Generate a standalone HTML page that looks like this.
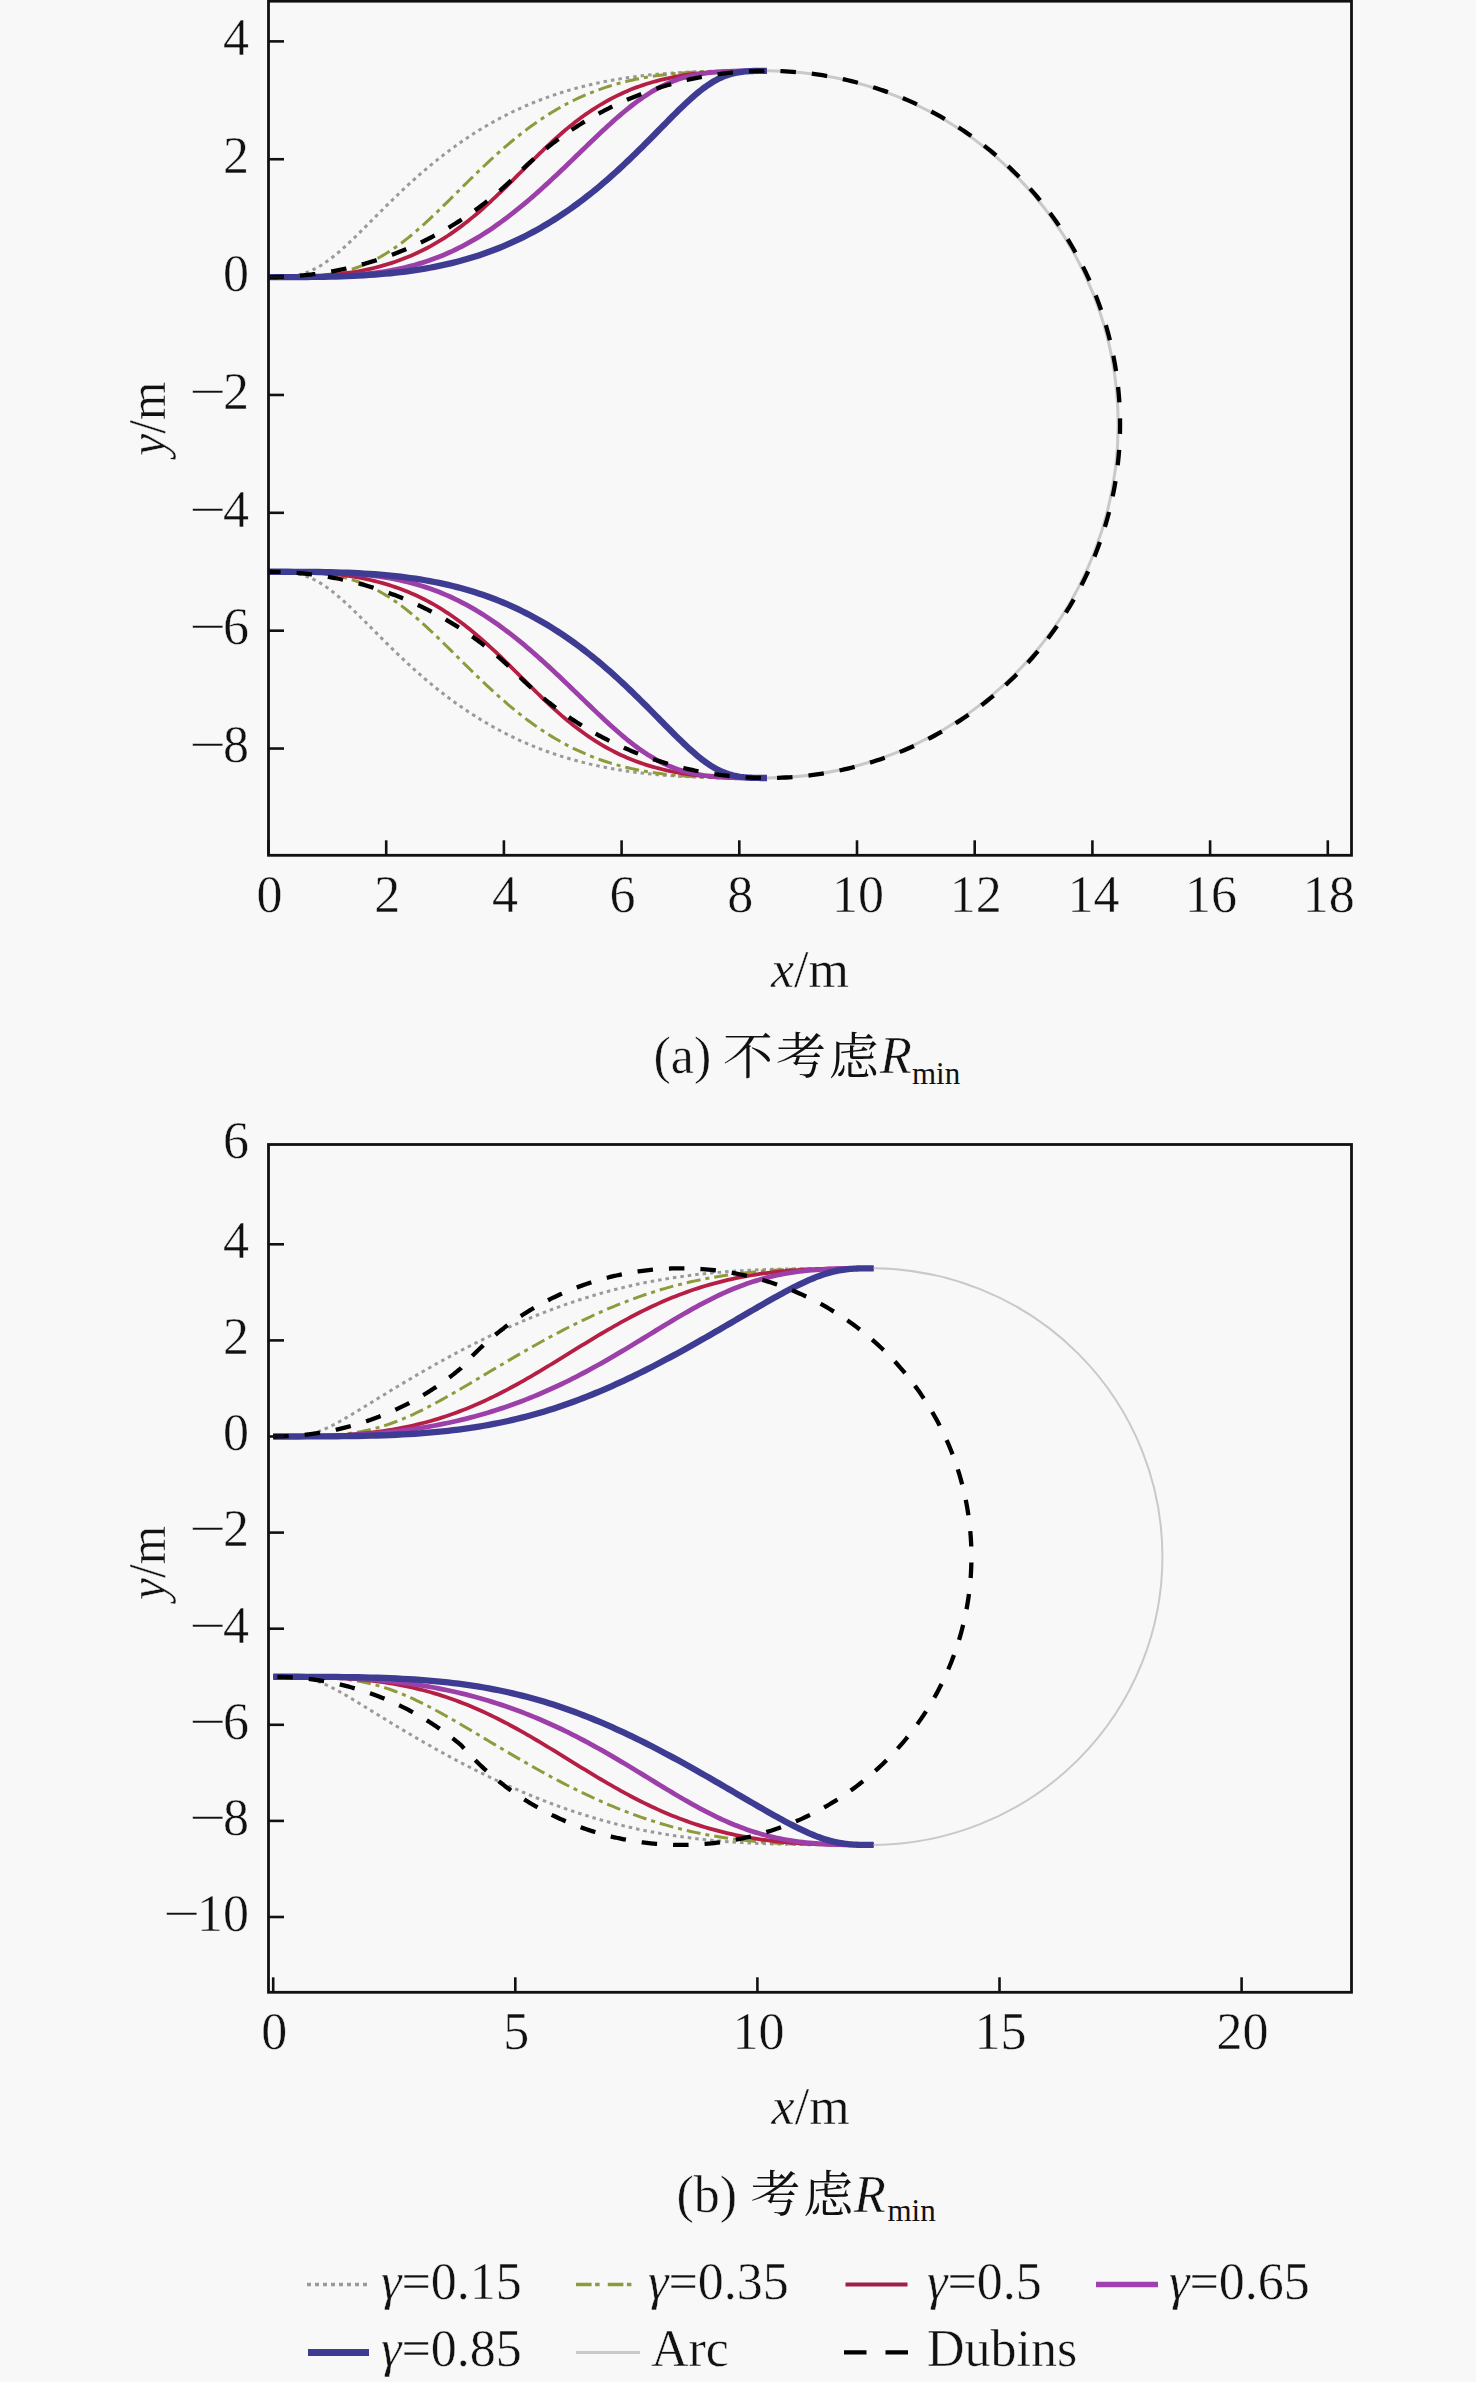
<!DOCTYPE html>
<html><head><meta charset="utf-8"><title>Figure</title>
<style>html,body{margin:0;padding:0;background:#f8f8f8;}svg{display:block;}</style></head>
<body><svg width="1476" height="2382" viewBox="0 0 1476 2382">
<style>text{stroke:#f8f8f8;stroke-width:0.45px}</style>
<rect width="1476" height="2382" fill="#f8f8f8"/>
<defs><clipPath id="clipA"><rect x="268.5" y="1.2" width="1083.0" height="854.0999999999999"/></clipPath><clipPath id="clipB"><rect x="268.5" y="1144.5" width="1083.0" height="847.8"/></clipPath></defs>
<g fill="none" clip-path="url(#clipA)">
<path d="M268.5 277.1 270.4 277.1 272.27 277.1 274.11 277.09 275.93 277.07 277.73 277.04 279.5 277 281.25 276.94 282.98 276.86 284.69 276.76 286.39 276.63 288.07 276.49 289.73 276.31 291.38 276.11 293.02 275.87 294.65 275.6 296.26 275.3 297.87 274.97 299.47 274.59 301.06 274.18 302.65 273.73 304.23 273.24 305.81 272.71 307.39 272.13 308.97 271.52 310.54 270.85 312.12 270.15 313.7 269.4 315.28 268.6 316.86 267.76 318.45 266.87 320.05 265.94 321.65 264.95 323.26 263.92 324.88 262.85 326.51 261.72 328.14 260.55 329.79 259.34 331.46 258.07 333.13 256.76 334.82 255.41 336.52 254 338.24 252.56 339.98 251.06 341.73 249.53 343.5 247.95 345.29 246.32 347.09 244.66 348.92 242.95 350.77 241.2 352.64 239.41 354.53 237.58 356.45 235.72 358.39 233.81 360.35 231.87 362.34 229.9 364.35 227.89 366.39 225.85 368.46 223.77 370.55 221.67 372.67 219.53 374.82 217.37 377 215.18 379.21 212.97 381.45 210.73 383.72 208.47 386.02 206.18 388.36 203.88 390.72 201.56 393.12 199.22 395.55 196.86 398.02 194.49 400.51 192.11 403.05 189.71 405.61 187.31 408.22 184.89 410.85 182.47 413.53 180.05 416.24 177.62 418.99 175.19 421.77 172.76 424.59 170.32 427.45 167.9 430.35 165.47 433.28 163.05 436.26 160.64 439.27 158.23 442.32 155.84 445.41 153.46 448.54 151.09 451.71 148.73 454.92 146.39 458.17 144.07 461.46 141.76 464.8 139.48 468.17 137.22 471.58 134.98 475.03 132.76 478.53 130.57 482.06 128.41 485.64 126.28 489.26 124.17 492.91 122.1 496.61 120.06 500.36 118.05 504.14 116.07 507.97 114.13 511.83 112.23 515.74 110.36 519.69 108.54 523.68 106.75 527.72 105 531.79 103.29 535.91 101.62 540.06 100 544.26 98.42 548.5 96.88 552.78 95.39 557.11 93.94 561.47 92.54 565.87 91.18 570.32 89.87 574.8 88.61 579.33 87.39 583.9 86.22 588.5 85.1 593.15 84.02 597.83 82.99 602.56 82.01 607.32 81.07 612.13 80.19 616.97 79.34 621.85 78.55 626.77 77.8 631.72 77.09 636.72 76.43 641.75 75.81 646.82 75.24 651.92 74.71 657.07 74.21 662.24 73.76 667.46 73.35 672.71 72.98 677.99 72.64 683.31 72.34 688.66 72.07 694.05 71.84 699.47 71.63 704.92 71.46 710.41 71.31 715.93 71.19 721.48 71.09 727.06 71.01 732.67 70.95 738.31 70.91 743.98 70.88 749.69 70.86 755.42 70.85 761.17 70.85 766.96 70.85" stroke="#9a9a9a" stroke-width="3" stroke-dasharray="3.5 4"/>
<path d="M268.5 571.75 270.4 571.75 272.27 571.75 274.11 571.76 275.93 571.78 277.73 571.81 279.5 571.85 281.25 571.91 282.98 571.99 284.69 572.09 286.39 572.22 288.07 572.36 289.73 572.54 291.38 572.74 293.02 572.98 294.65 573.25 296.26 573.55 297.87 573.88 299.47 574.26 301.06 574.67 302.65 575.12 304.23 575.61 305.81 576.14 307.39 576.72 308.97 577.33 310.54 578 312.12 578.7 313.7 579.45 315.28 580.25 316.86 581.09 318.45 581.98 320.05 582.91 321.65 583.9 323.26 584.93 324.88 586 326.51 587.13 328.14 588.3 329.79 589.51 331.46 590.78 333.13 592.09 334.82 593.44 336.52 594.85 338.24 596.29 339.98 597.79 341.73 599.32 343.5 600.9 345.29 602.53 347.09 604.19 348.92 605.9 350.77 607.65 352.64 609.44 354.53 611.27 356.45 613.13 358.39 615.04 360.35 616.98 362.34 618.95 364.35 620.96 366.39 623 368.46 625.08 370.55 627.18 372.67 629.32 374.82 631.48 377 633.67 379.21 635.88 381.45 638.12 383.72 640.38 386.02 642.67 388.36 644.97 390.72 647.29 393.12 649.63 395.55 651.99 398.02 654.36 400.51 656.74 403.05 659.14 405.61 661.54 408.22 663.96 410.85 666.38 413.53 668.8 416.24 671.23 418.99 673.66 421.77 676.09 424.59 678.53 427.45 680.95 430.35 683.38 433.28 685.8 436.26 688.21 439.27 690.62 442.32 693.01 445.41 695.39 448.54 697.76 451.71 700.12 454.92 702.46 458.17 704.78 461.46 707.09 464.8 709.37 468.17 711.63 471.58 713.87 475.03 716.09 478.53 718.28 482.06 720.44 485.64 722.57 489.26 724.68 492.91 726.75 496.61 728.79 500.36 730.8 504.14 732.78 507.97 734.72 511.83 736.62 515.74 738.49 519.69 740.31 523.68 742.1 527.72 743.85 531.79 745.56 535.91 747.23 540.06 748.85 544.26 750.43 548.5 751.97 552.78 753.46 557.11 754.91 561.47 756.31 565.87 757.67 570.32 758.98 574.8 760.24 579.33 761.46 583.9 762.63 588.5 763.75 593.15 764.83 597.83 765.86 602.56 766.84 607.32 767.78 612.13 768.66 616.97 769.51 621.85 770.3 626.77 771.05 631.72 771.76 636.72 772.42 641.75 773.04 646.82 773.61 651.92 774.14 657.07 774.64 662.24 775.09 667.46 775.5 672.71 775.87 677.99 776.21 683.31 776.51 688.66 776.78 694.05 777.01 699.47 777.22 704.92 777.39 710.41 777.54 715.93 777.66 721.48 777.76 727.06 777.84 732.67 777.9 738.31 777.94 743.98 777.97 749.69 777.99 755.42 778 761.17 778 766.96 778" stroke="#9a9a9a" stroke-width="3" stroke-dasharray="3.5 4"/>
<path d="M268.5 277.1 272.21 277.1 275.86 277.1 279.45 277.09 282.97 277.07 286.43 277.04 289.84 277 293.19 276.94 296.49 276.86 299.74 276.76 302.94 276.63 306.08 276.49 309.19 276.31 312.24 276.11 315.25 275.87 318.23 275.6 321.16 275.3 324.05 274.97 326.9 274.59 329.72 274.18 332.51 273.73 335.26 273.24 337.98 272.71 340.67 272.13 343.33 271.52 345.96 270.85 348.57 270.15 351.15 269.4 353.71 268.6 356.24 267.76 358.75 266.87 361.25 265.94 363.72 264.95 366.18 263.92 368.62 262.85 371.04 261.72 373.45 260.55 375.84 259.34 378.22 258.07 380.59 256.76 382.95 255.41 385.3 254 387.63 252.56 389.96 251.06 392.29 249.53 394.6 247.95 396.91 246.32 399.22 244.66 401.52 242.95 403.82 241.2 406.11 239.41 408.41 237.58 410.7 235.72 412.99 233.81 415.28 231.87 417.58 229.9 419.87 227.89 422.17 225.85 424.47 223.77 426.77 221.67 429.08 219.53 431.39 217.37 433.71 215.18 436.04 212.97 438.37 210.73 440.71 208.47 443.05 206.18 445.41 203.88 447.77 201.56 450.14 199.22 452.53 196.86 454.92 194.49 457.32 192.11 459.74 189.71 462.17 187.31 464.6 184.89 467.06 182.47 469.52 180.05 472 177.62 474.5 175.19 477.01 172.76 479.53 170.32 482.07 167.9 484.63 165.47 487.2 163.05 489.79 160.64 492.4 158.23 495.02 155.84 497.67 153.46 500.33 151.09 503.01 148.73 505.71 146.39 508.43 144.07 511.18 141.76 513.94 139.48 516.73 137.22 519.54 134.98 522.37 132.76 525.22 130.57 528.1 128.41 531 126.28 533.92 124.17 536.87 122.1 539.85 120.06 542.85 118.05 545.88 116.07 548.93 114.13 552.01 112.23 555.12 110.36 558.26 108.54 561.43 106.75 564.62 105 567.85 103.29 571.11 101.62 574.4 100 577.72 98.42 581.07 96.88 584.46 95.39 587.88 93.94 591.34 92.54 594.82 91.18 598.35 89.87 601.91 88.61 605.51 87.39 609.15 86.22 612.82 85.1 616.54 84.02 620.29 82.99 624.08 82.01 627.92 81.07 631.8 80.19 635.72 79.34 639.69 78.55 643.7 77.8 647.75 77.09 651.86 76.43 656.01 75.81 660.2 75.24 664.45 74.71 668.75 74.21 673.1 73.76 677.5 73.35 681.95 72.98 686.46 72.64 691.03 72.34 695.65 72.07 700.33 71.84 705.07 71.63 709.86 71.46 714.72 71.31 719.64 71.19 724.63 71.09 729.68 71.01 734.8 70.95 739.98 70.91 745.23 70.88 750.55 70.86 755.95 70.85 761.42 70.85 766.96 70.85" stroke="#8e9a3c" stroke-width="3" stroke-dasharray="14 5 4 5"/>
<path d="M268.5 571.75 272.21 571.75 275.86 571.75 279.45 571.76 282.97 571.78 286.43 571.81 289.84 571.85 293.19 571.91 296.49 571.99 299.74 572.09 302.94 572.22 306.08 572.36 309.19 572.54 312.24 572.74 315.25 572.98 318.23 573.25 321.16 573.55 324.05 573.88 326.9 574.26 329.72 574.67 332.51 575.12 335.26 575.61 337.98 576.14 340.67 576.72 343.33 577.33 345.96 578 348.57 578.7 351.15 579.45 353.71 580.25 356.24 581.09 358.75 581.98 361.25 582.91 363.72 583.9 366.18 584.93 368.62 586 371.04 587.13 373.45 588.3 375.84 589.51 378.22 590.78 380.59 592.09 382.95 593.44 385.3 594.85 387.63 596.29 389.96 597.79 392.29 599.32 394.6 600.9 396.91 602.53 399.22 604.19 401.52 605.9 403.82 607.65 406.11 609.44 408.41 611.27 410.7 613.13 412.99 615.04 415.28 616.98 417.58 618.95 419.87 620.96 422.17 623 424.47 625.08 426.77 627.18 429.08 629.32 431.39 631.48 433.71 633.67 436.04 635.88 438.37 638.12 440.71 640.38 443.05 642.67 445.41 644.97 447.77 647.29 450.14 649.63 452.53 651.99 454.92 654.36 457.32 656.74 459.74 659.14 462.17 661.54 464.6 663.96 467.06 666.38 469.52 668.8 472 671.23 474.5 673.66 477.01 676.09 479.53 678.53 482.07 680.95 484.63 683.38 487.2 685.8 489.79 688.21 492.4 690.62 495.02 693.01 497.67 695.39 500.33 697.76 503.01 700.12 505.71 702.46 508.43 704.78 511.18 707.09 513.94 709.37 516.73 711.63 519.54 713.87 522.37 716.09 525.22 718.28 528.1 720.44 531 722.57 533.92 724.68 536.87 726.75 539.85 728.79 542.85 730.8 545.88 732.78 548.93 734.72 552.01 736.62 555.12 738.49 558.26 740.31 561.43 742.1 564.62 743.85 567.85 745.56 571.11 747.23 574.4 748.85 577.72 750.43 581.07 751.97 584.46 753.46 587.88 754.91 591.34 756.31 594.82 757.67 598.35 758.98 601.91 760.24 605.51 761.46 609.15 762.63 612.82 763.75 616.54 764.83 620.29 765.86 624.08 766.84 627.92 767.78 631.8 768.66 635.72 769.51 639.69 770.3 643.7 771.05 647.75 771.76 651.86 772.42 656.01 773.04 660.2 773.61 664.45 774.14 668.75 774.64 673.1 775.09 677.5 775.5 681.95 775.87 686.46 776.21 691.03 776.51 695.65 776.78 700.33 777.01 705.07 777.22 709.86 777.39 714.72 777.54 719.64 777.66 724.63 777.76 729.68 777.84 734.8 777.9 739.98 777.94 745.23 777.97 750.55 777.99 755.95 778 761.42 778 766.96 778" stroke="#8e9a3c" stroke-width="3" stroke-dasharray="14 5 4 5"/>
<path d="M268.5 277.1 272.1 277.1 275.73 277.1 279.39 277.09 283.06 277.07 286.75 277.04 290.46 277 294.18 276.94 297.91 276.86 301.64 276.76 305.38 276.63 309.12 276.49 312.87 276.31 316.61 276.11 320.35 275.87 324.08 275.6 327.8 275.3 331.52 274.97 335.22 274.59 338.91 274.18 342.59 273.73 346.26 273.24 349.9 272.71 353.53 272.13 357.14 271.52 360.73 270.85 364.29 270.15 367.84 269.4 371.36 268.6 374.86 267.76 378.33 266.87 381.78 265.94 385.2 264.95 388.6 263.92 391.97 262.85 395.31 261.72 398.62 260.55 401.91 259.34 405.17 258.07 408.4 256.76 411.6 255.41 414.77 254 417.91 252.56 421.03 251.06 424.11 249.53 427.17 247.95 430.2 246.32 433.2 244.66 436.17 242.95 439.12 241.2 442.04 239.41 444.93 237.58 447.79 235.72 450.63 233.81 453.45 231.87 456.24 229.9 459 227.89 461.75 225.85 464.46 223.77 467.16 221.67 469.84 219.53 472.49 217.37 475.13 215.18 477.75 212.97 480.34 210.73 482.92 208.47 485.49 206.18 488.04 203.88 490.57 201.56 493.09 199.22 495.6 196.86 498.09 194.49 500.58 192.11 503.06 189.71 505.52 187.31 507.98 184.89 510.43 182.47 512.88 180.05 515.32 177.62 517.76 175.19 520.19 172.76 522.63 170.32 525.06 167.9 527.5 165.47 529.93 163.05 532.37 160.64 534.81 158.23 537.26 155.84 539.72 153.46 542.18 151.09 544.65 148.73 547.12 146.39 549.61 144.07 552.11 141.76 554.62 139.48 557.15 137.22 559.69 134.98 562.24 132.76 564.81 130.57 567.4 128.41 570.01 126.28 572.63 124.17 575.27 122.1 577.94 120.06 580.62 118.05 583.33 116.07 586.06 114.13 588.81 112.23 591.59 110.36 594.39 108.54 597.22 106.75 600.07 105 602.95 103.29 605.86 101.62 608.79 100 611.75 98.42 614.74 96.88 617.76 95.39 620.81 93.94 623.89 92.54 626.99 91.18 630.13 89.87 633.29 88.61 636.49 87.39 639.72 86.22 642.97 85.1 646.25 84.02 649.57 82.99 652.91 82.01 656.29 81.07 659.69 80.19 663.12 79.34 666.57 78.55 670.06 77.8 673.57 77.09 677.11 76.43 680.67 75.81 684.26 75.24 687.87 74.71 691.51 74.21 695.16 73.76 698.84 73.35 702.54 72.98 706.26 72.64 709.99 72.34 713.74 72.07 717.5 71.84 721.28 71.63 725.07 71.46 728.87 71.31 732.68 71.19 736.49 71.09 740.31 71.01 744.12 70.95 747.94 70.91 751.76 70.88 755.57 70.86 759.38 70.85 763.18 70.85 766.96 70.85" stroke="#b51f45" stroke-width="3.8"/>
<path d="M268.5 571.75 272.1 571.75 275.73 571.75 279.39 571.76 283.06 571.78 286.75 571.81 290.46 571.85 294.18 571.91 297.91 571.99 301.64 572.09 305.38 572.22 309.12 572.36 312.87 572.54 316.61 572.74 320.35 572.98 324.08 573.25 327.8 573.55 331.52 573.88 335.22 574.26 338.91 574.67 342.59 575.12 346.26 575.61 349.9 576.14 353.53 576.72 357.14 577.33 360.73 578 364.29 578.7 367.84 579.45 371.36 580.25 374.86 581.09 378.33 581.98 381.78 582.91 385.2 583.9 388.6 584.93 391.97 586 395.31 587.13 398.62 588.3 401.91 589.51 405.17 590.78 408.4 592.09 411.6 593.44 414.77 594.85 417.91 596.29 421.03 597.79 424.11 599.32 427.17 600.9 430.2 602.53 433.2 604.19 436.17 605.9 439.12 607.65 442.04 609.44 444.93 611.27 447.79 613.13 450.63 615.04 453.45 616.98 456.24 618.95 459 620.96 461.75 623 464.46 625.08 467.16 627.18 469.84 629.32 472.49 631.48 475.13 633.67 477.75 635.88 480.34 638.12 482.92 640.38 485.49 642.67 488.04 644.97 490.57 647.29 493.09 649.63 495.6 651.99 498.09 654.36 500.58 656.74 503.06 659.14 505.52 661.54 507.98 663.96 510.43 666.38 512.88 668.8 515.32 671.23 517.76 673.66 520.19 676.09 522.63 678.53 525.06 680.95 527.5 683.38 529.93 685.8 532.37 688.21 534.81 690.62 537.26 693.01 539.72 695.39 542.18 697.76 544.65 700.12 547.12 702.46 549.61 704.78 552.11 707.09 554.62 709.37 557.15 711.63 559.69 713.87 562.24 716.09 564.81 718.28 567.4 720.44 570.01 722.57 572.63 724.68 575.27 726.75 577.94 728.79 580.62 730.8 583.33 732.78 586.06 734.72 588.81 736.62 591.59 738.49 594.39 740.31 597.22 742.1 600.07 743.85 602.95 745.56 605.86 747.23 608.79 748.85 611.75 750.43 614.74 751.97 617.76 753.46 620.81 754.91 623.89 756.31 626.99 757.67 630.13 758.98 633.29 760.24 636.49 761.46 639.72 762.63 642.97 763.75 646.25 764.83 649.57 765.86 652.91 766.84 656.29 767.78 659.69 768.66 663.12 769.51 666.57 770.3 670.06 771.05 673.57 771.76 677.11 772.42 680.67 773.04 684.26 773.61 687.87 774.14 691.51 774.64 695.16 775.09 698.84 775.5 702.54 775.87 706.26 776.21 709.99 776.51 713.74 776.78 717.5 777.01 721.28 777.22 725.07 777.39 728.87 777.54 732.68 777.66 736.49 777.76 740.31 777.84 744.12 777.9 747.94 777.94 751.76 777.97 755.57 777.99 759.38 778 763.18 778 766.96 778" stroke="#b51f45" stroke-width="3.8"/>
<path d="M268.5 277.1 274.41 277.1 280.2 277.1 285.88 277.09 291.45 277.07 296.91 277.04 302.27 277 307.53 276.94 312.69 276.86 317.76 276.76 322.73 276.63 327.62 276.49 332.43 276.31 337.16 276.11 341.8 275.87 346.37 275.6 350.87 275.3 355.3 274.97 359.66 274.59 363.95 274.18 368.19 273.73 372.36 273.24 376.47 272.71 380.52 272.13 384.52 271.52 388.47 270.85 392.37 270.15 396.22 269.4 400.02 268.6 403.78 267.76 407.49 266.87 411.16 265.94 414.79 264.95 418.38 263.92 421.94 262.85 425.45 261.72 428.94 260.55 432.38 259.34 435.8 258.07 439.18 256.76 442.54 255.41 445.86 254 449.15 252.56 452.42 251.06 455.66 249.53 458.88 247.95 462.06 246.32 465.23 244.66 468.37 242.95 471.49 241.2 474.58 239.41 477.66 237.58 480.71 235.72 483.74 233.81 486.75 231.87 489.74 229.9 492.71 227.89 495.67 225.85 498.6 223.77 501.52 221.67 504.41 219.53 507.29 217.37 510.15 215.18 513 212.97 515.83 210.73 518.64 208.47 521.43 206.18 524.21 203.88 526.97 201.56 529.72 199.22 532.45 196.86 535.16 194.49 537.86 192.11 540.54 189.71 543.21 187.31 545.86 184.89 548.5 182.47 551.12 180.05 553.72 177.62 556.32 175.19 558.89 172.76 561.45 170.32 564 167.9 566.53 165.47 569.05 163.05 571.56 160.64 574.05 158.23 576.52 155.84 578.99 153.46 581.43 151.09 583.87 148.73 586.29 146.39 588.7 144.07 591.1 141.76 593.48 139.48 595.85 137.22 598.21 134.98 600.56 132.76 602.9 130.57 605.23 128.41 607.54 126.28 609.85 124.17 612.15 122.1 614.44 120.06 616.72 118.05 618.99 116.07 621.26 114.13 623.52 112.23 625.77 110.36 628.02 108.54 630.27 106.75 632.51 105 634.75 103.29 636.99 101.62 639.22 100 641.46 98.42 643.7 96.88 645.94 95.39 648.19 93.94 650.44 92.54 652.7 91.18 654.96 89.87 657.24 88.61 659.52 87.39 661.82 86.22 664.13 85.1 666.46 84.02 668.8 82.99 671.17 82.01 673.55 81.07 675.95 80.19 678.39 79.34 680.84 78.55 683.33 77.8 685.85 77.09 688.4 76.43 690.98 75.81 693.6 75.24 696.27 74.71 698.98 74.21 701.73 73.76 704.53 73.35 707.39 72.98 710.29 72.64 713.26 72.34 716.28 72.07 719.37 71.84 722.53 71.63 725.76 71.46 729.06 71.31 732.44 71.19 735.89 71.09 739.44 71.01 743.07 70.95 746.8 70.91 750.62 70.88 754.54 70.86 758.57 70.85 762.71 70.85 766.96 70.85" stroke="#9c3fa8" stroke-width="4.8"/>
<path d="M268.5 571.75 274.41 571.75 280.2 571.75 285.88 571.76 291.45 571.78 296.91 571.81 302.27 571.85 307.53 571.91 312.69 571.99 317.76 572.09 322.73 572.22 327.62 572.36 332.43 572.54 337.16 572.74 341.8 572.98 346.37 573.25 350.87 573.55 355.3 573.88 359.66 574.26 363.95 574.67 368.19 575.12 372.36 575.61 376.47 576.14 380.52 576.72 384.52 577.33 388.47 578 392.37 578.7 396.22 579.45 400.02 580.25 403.78 581.09 407.49 581.98 411.16 582.91 414.79 583.9 418.38 584.93 421.94 586 425.45 587.13 428.94 588.3 432.38 589.51 435.8 590.78 439.18 592.09 442.54 593.44 445.86 594.85 449.15 596.29 452.42 597.79 455.66 599.32 458.88 600.9 462.06 602.53 465.23 604.19 468.37 605.9 471.49 607.65 474.58 609.44 477.66 611.27 480.71 613.13 483.74 615.04 486.75 616.98 489.74 618.95 492.71 620.96 495.67 623 498.6 625.08 501.52 627.18 504.41 629.32 507.29 631.48 510.15 633.67 513 635.88 515.83 638.12 518.64 640.38 521.43 642.67 524.21 644.97 526.97 647.29 529.72 649.63 532.45 651.99 535.16 654.36 537.86 656.74 540.54 659.14 543.21 661.54 545.86 663.96 548.5 666.38 551.12 668.8 553.72 671.23 556.32 673.66 558.89 676.09 561.45 678.53 564 680.95 566.53 683.38 569.05 685.8 571.56 688.21 574.05 690.62 576.52 693.01 578.99 695.39 581.43 697.76 583.87 700.12 586.29 702.46 588.7 704.78 591.1 707.09 593.48 709.37 595.85 711.63 598.21 713.87 600.56 716.09 602.9 718.28 605.23 720.44 607.54 722.57 609.85 724.68 612.15 726.75 614.44 728.79 616.72 730.8 618.99 732.78 621.26 734.72 623.52 736.62 625.77 738.49 628.02 740.31 630.27 742.1 632.51 743.85 634.75 745.56 636.99 747.23 639.22 748.85 641.46 750.43 643.7 751.97 645.94 753.46 648.19 754.91 650.44 756.31 652.7 757.67 654.96 758.98 657.24 760.24 659.52 761.46 661.82 762.63 664.13 763.75 666.46 764.83 668.8 765.86 671.17 766.84 673.55 767.78 675.95 768.66 678.39 769.51 680.84 770.3 683.33 771.05 685.85 771.76 688.4 772.42 690.98 773.04 693.6 773.61 696.27 774.14 698.98 774.64 701.73 775.09 704.53 775.5 707.39 775.87 710.29 776.21 713.26 776.51 716.28 776.78 719.37 777.01 722.53 777.22 725.76 777.39 729.06 777.54 732.44 777.66 735.89 777.76 739.44 777.84 743.07 777.9 746.8 777.94 750.62 777.97 754.54 777.99 758.57 778 762.71 778 766.96 778" stroke="#9c3fa8" stroke-width="4.8"/>
<path d="M268.5 277.1 275.03 277.1 281.47 277.1 287.84 277.09 294.13 277.07 300.34 277.04 306.47 277 312.54 276.94 318.53 276.86 324.45 276.76 330.3 276.63 336.08 276.49 341.79 276.31 347.44 276.11 353.02 275.87 358.55 275.6 364 275.3 369.4 274.97 374.74 274.59 380.01 274.18 385.23 273.73 390.4 273.24 395.5 272.71 400.55 272.13 405.55 271.52 410.49 270.85 415.38 270.15 420.21 269.4 425 268.6 429.73 267.76 434.42 266.87 439.05 265.94 443.64 264.95 448.18 263.92 452.67 262.85 457.11 261.72 461.51 260.55 465.86 259.34 470.17 258.07 474.43 256.76 478.65 255.41 482.83 254 486.96 252.56 491.05 251.06 495.09 249.53 499.1 247.95 503.06 246.32 506.98 244.66 510.86 242.95 514.71 241.2 518.51 239.41 522.27 237.58 525.99 235.72 529.67 233.81 533.31 231.87 536.91 229.9 540.48 227.89 544.01 225.85 547.5 223.77 550.95 221.67 554.36 219.53 557.74 217.37 561.08 215.18 564.38 212.97 567.65 210.73 570.88 208.47 574.08 206.18 577.23 203.88 580.36 201.56 583.44 199.22 586.5 196.86 589.51 194.49 592.49 192.11 595.44 189.71 598.35 187.31 601.23 184.89 604.07 182.47 606.88 180.05 609.66 177.62 612.4 175.19 615.11 172.76 617.79 170.32 620.43 167.9 623.04 165.47 625.62 163.05 628.16 160.64 630.68 158.23 633.16 155.84 635.61 153.46 638.03 151.09 640.41 148.73 642.77 146.39 645.1 144.07 647.4 141.76 649.66 139.48 651.9 137.22 654.11 134.98 656.29 132.76 658.45 130.57 660.57 128.41 662.67 126.28 664.74 124.17 666.79 122.1 668.81 120.06 670.8 118.05 672.77 116.07 674.71 114.13 676.63 112.23 678.53 110.36 680.41 108.54 682.26 106.75 684.09 105 685.9 103.29 687.7 101.62 689.47 100 691.22 98.42 692.96 96.88 694.68 95.39 696.38 93.94 698.07 92.54 699.74 91.18 701.4 89.87 703.05 88.61 704.68 87.39 706.31 86.22 707.93 85.1 709.53 84.02 711.13 82.99 712.73 82.01 714.32 81.07 715.9 80.19 717.49 79.34 719.07 78.55 720.65 77.8 722.23 77.09 723.82 76.43 725.41 75.81 727 75.24 728.6 74.71 730.22 74.21 731.84 73.76 733.47 73.35 735.11 72.98 736.78 72.64 738.45 72.34 740.15 72.07 741.87 71.84 743.61 71.63 745.37 71.46 747.16 71.31 748.98 71.19 750.83 71.09 752.71 71.01 754.62 70.95 756.57 70.91 758.56 70.88 760.59 70.86 762.67 70.85 764.79 70.85 766.96 70.85" stroke="#3e3b92" stroke-width="6.3"/>
<path d="M268.5 571.75 275.03 571.75 281.47 571.75 287.84 571.76 294.13 571.78 300.34 571.81 306.47 571.85 312.54 571.91 318.53 571.99 324.45 572.09 330.3 572.22 336.08 572.36 341.79 572.54 347.44 572.74 353.02 572.98 358.55 573.25 364 573.55 369.4 573.88 374.74 574.26 380.01 574.67 385.23 575.12 390.4 575.61 395.5 576.14 400.55 576.72 405.55 577.33 410.49 578 415.38 578.7 420.21 579.45 425 580.25 429.73 581.09 434.42 581.98 439.05 582.91 443.64 583.9 448.18 584.93 452.67 586 457.11 587.13 461.51 588.3 465.86 589.51 470.17 590.78 474.43 592.09 478.65 593.44 482.83 594.85 486.96 596.29 491.05 597.79 495.09 599.32 499.1 600.9 503.06 602.53 506.98 604.19 510.86 605.9 514.71 607.65 518.51 609.44 522.27 611.27 525.99 613.13 529.67 615.04 533.31 616.98 536.91 618.95 540.48 620.96 544.01 623 547.5 625.08 550.95 627.18 554.36 629.32 557.74 631.48 561.08 633.67 564.38 635.88 567.65 638.12 570.88 640.38 574.08 642.67 577.23 644.97 580.36 647.29 583.44 649.63 586.5 651.99 589.51 654.36 592.49 656.74 595.44 659.14 598.35 661.54 601.23 663.96 604.07 666.38 606.88 668.8 609.66 671.23 612.4 673.66 615.11 676.09 617.79 678.53 620.43 680.95 623.04 683.38 625.62 685.8 628.16 688.21 630.68 690.62 633.16 693.01 635.61 695.39 638.03 697.76 640.41 700.12 642.77 702.46 645.1 704.78 647.4 707.09 649.66 709.37 651.9 711.63 654.11 713.87 656.29 716.09 658.45 718.28 660.57 720.44 662.67 722.57 664.74 724.68 666.79 726.75 668.81 728.79 670.8 730.8 672.77 732.78 674.71 734.72 676.63 736.62 678.53 738.49 680.41 740.31 682.26 742.1 684.09 743.85 685.9 745.56 687.7 747.23 689.47 748.85 691.22 750.43 692.96 751.97 694.68 753.46 696.38 754.91 698.07 756.31 699.74 757.67 701.4 758.98 703.05 760.24 704.68 761.46 706.31 762.63 707.93 763.75 709.53 764.83 711.13 765.86 712.73 766.84 714.32 767.78 715.9 768.66 717.49 769.51 719.07 770.3 720.65 771.05 722.23 771.76 723.82 772.42 725.41 773.04 727 773.61 728.6 774.14 730.22 774.64 731.84 775.09 733.47 775.5 735.11 775.87 736.78 776.21 738.45 776.51 740.15 776.78 741.87 777.01 743.61 777.22 745.37 777.39 747.16 777.54 748.98 777.66 750.83 777.76 752.71 777.84 754.62 777.9 756.57 777.94 758.56 777.97 760.59 777.99 762.67 778 764.79 778 766.96 778" stroke="#3e3b92" stroke-width="6.3"/>
<path d="M766.96 70.85A353.1 353.58 0 0 1 766.96 778" stroke="#c9c9c9" stroke-width="3"/>
<path d="M268.5 277.1 269.75 277.1 271 277.09 272.25 277.08 273.5 277.06 274.75 277.04 276 277.02 277.24 276.99 278.49 276.96 279.74 276.92 280.99 276.88 282.24 276.83 283.49 276.78 284.74 276.73 285.99 276.67 287.24 276.6 288.49 276.53 289.74 276.46 290.99 276.38 292.24 276.3 293.49 276.21 294.73 276.12 295.98 276.03 297.23 275.93 298.48 275.82 299.73 275.71 300.98 275.6 302.23 275.48 303.48 275.36 304.73 275.23 305.98 275.1 307.23 274.97 308.48 274.83 309.73 274.68 310.98 274.53 312.22 274.38 313.47 274.22 314.72 274.06 315.97 273.89 317.22 273.72 318.47 273.54 319.72 273.36 320.97 273.17 322.22 272.98 323.47 272.79 324.72 272.59 325.97 272.39 327.22 272.18 328.47 271.96 329.71 271.75 330.96 271.52 332.21 271.3 333.46 271.06 334.71 270.83 335.96 270.59 337.21 270.34 338.46 270.09 339.71 269.84 340.96 269.58 342.21 269.31 343.46 269.04 344.71 268.77 345.95 268.49 347.2 268.2 348.45 267.92 349.7 267.62 350.95 267.33 352.2 267.02 353.45 266.71 354.7 266.4 355.95 266.08 357.2 265.76 358.45 265.44 359.7 265.1 360.95 264.77 362.2 264.42 363.44 264.08 364.69 263.73 365.94 263.37 367.19 263.01 368.44 262.64 369.69 262.27 370.94 261.89 372.19 261.51 373.44 261.12 374.69 260.73 375.94 260.34 377.19 259.93 378.44 259.53 379.69 259.11 380.93 258.7 382.18 258.27 383.43 257.85 384.68 257.41 385.93 256.97 387.18 256.53 388.43 256.08 389.68 255.63 390.93 255.17 392.18 254.7 393.43 254.23 394.68 253.75 395.93 253.27 397.18 252.79 398.42 252.29 399.67 251.8 400.92 251.29 402.17 250.78 403.42 250.27 404.67 249.75 405.92 249.22 407.17 248.69 408.42 248.16 409.67 247.61 410.92 247.06 412.17 246.51 413.42 245.95 414.66 245.38 415.91 244.81 417.16 244.23 418.41 243.65 419.66 243.06 420.91 242.47 422.16 241.86 423.41 241.26 424.66 240.64 425.91 240.02 427.16 239.4 428.41 238.76 429.66 238.13 430.91 237.48 432.15 236.83 433.4 236.17 434.65 235.51 435.9 234.84 437.15 234.16 438.4 233.48 439.65 232.79 440.9 232.09 442.15 231.39 443.4 230.68 444.65 229.96 445.9 229.24 447.15 228.51 448.4 227.77 449.64 227.03 450.89 226.28 452.14 225.52 453.39 224.75 454.64 223.98 455.89 223.2 457.14 222.41 458.39 221.62 459.64 220.82 460.89 220.01 462.14 219.19 463.39 218.37 464.64 217.54 465.88 216.7 467.13 215.85 468.38 214.99 469.63 214.13 470.88 213.26 472.13 212.38 473.38 211.49 474.63 210.6 475.88 209.69 477.13 208.78 478.38 207.86 479.63 206.93 480.88 206 482.13 205.05 483.37 204.09 484.62 203.13 485.87 202.16 487.12 201.18 488.37 200.19 489.62 199.19 490.87 198.18 492.12 197.16 493.37 196.13 494.62 195.09 495.87 194.04 497.12 192.98 498.37 191.92 499.62 190.84 500.86 189.75 502.11 188.65 503.36 187.54 504.61 186.42 505.86 185.29 507.11 184.15 508.36 183 509.61 181.84 510.86 180.66 512.11 179.47 513.36 178.28 514.61 177.07 515.86 175.84 517.11 174.58 518.35 173.34 519.6 172.1 520.85 170.88 522.1 169.67 523.35 168.47 524.6 167.28 525.85 166.11 527.1 164.95 528.35 163.79 529.6 162.65 530.85 161.52 532.1 160.4 533.35 159.29 534.59 158.19 535.84 157.11 537.09 156.03 538.34 154.96 539.59 153.9 540.84 152.86 542.09 151.82 543.34 150.79 544.59 149.77 545.84 148.76 547.09 147.76 548.34 146.77 549.59 145.79 550.84 144.81 552.08 143.85 553.33 142.9 554.58 141.95 555.83 141.01 557.08 140.08 558.33 139.16 559.58 138.25 560.83 137.35 562.08 136.45 563.33 135.56 564.58 134.69 565.83 133.81 567.08 132.95 568.33 132.1 569.57 131.25 570.82 130.41 572.07 129.58 573.32 128.75 574.57 127.94 575.82 127.13 577.07 126.33 578.32 125.53 579.57 124.75 580.82 123.97 582.07 123.19 583.32 122.43 584.57 121.67 585.82 120.92 587.06 120.17 588.31 119.44 589.56 118.71 590.81 117.98 592.06 117.27 593.31 116.56 594.56 115.85 595.81 115.16 597.06 114.47 598.31 113.78 599.56 113.11 600.81 112.44 602.06 111.77 603.3 111.12 604.55 110.46 605.8 109.82 607.05 109.18 608.3 108.55 609.55 107.92 610.8 107.3 612.05 106.69 613.3 106.08 614.55 105.48 615.8 104.88 617.05 104.29 618.3 103.71 619.55 103.13 620.79 102.56 622.04 101.99 623.29 101.43 624.54 100.88 625.79 100.33 627.04 99.79 628.29 99.25 629.54 98.72 630.79 98.2 632.04 97.68 633.29 97.16 634.54 96.65 635.79 96.15 637.04 95.65 638.28 95.16 639.53 94.67 640.78 94.19 642.03 93.71 643.28 93.24 644.53 92.78 645.78 92.32 647.03 91.86 648.28 91.42 649.53 90.97 650.78 90.53 652.03 90.1 653.28 89.67 654.53 89.25 655.77 88.83 657.02 88.42 658.27 88.01 659.52 87.61 660.77 87.21 662.02 86.82 663.27 86.43 664.52 86.05 665.77 85.68 667.02 85.3 668.27 84.94 669.52 84.58 670.77 84.22 672.01 83.87 673.26 83.52 674.51 83.18 675.76 82.84 677.01 82.51 678.26 82.18 679.51 81.86 680.76 81.54 682.01 81.23 683.26 80.92 684.51 80.62 685.76 80.32 687.01 80.03 688.26 79.74 689.5 79.46 690.75 79.18 692 78.9 693.25 78.63 694.5 78.37 695.75 78.11 697 77.85 698.25 77.6 699.5 77.36 700.75 77.12 702 76.88 703.25 76.65 704.5 76.42 705.75 76.2 706.99 75.98 708.24 75.77 709.49 75.56 710.74 75.36 711.99 75.16 713.24 74.96 714.49 74.77 715.74 74.58 716.99 74.4 718.24 74.23 719.49 74.06 720.74 73.89 721.99 73.72 723.23 73.57 724.48 73.41 725.73 73.26 726.98 73.12 728.23 72.98 729.48 72.84 730.73 72.71 731.98 72.58 733.23 72.46 734.48 72.34 735.73 72.23 736.98 72.12 738.23 72.02 739.48 71.92 740.72 71.82 741.97 71.73 743.22 71.64 744.47 71.56 745.72 71.49 746.97 71.41 748.22 71.34 749.47 71.28 750.72 71.22 751.97 71.16 753.22 71.11 754.47 71.07 755.72 71.02 756.97 70.99 758.21 70.95 759.46 70.92 760.71 70.9 761.96 70.88 763.21 70.86 764.46 70.85 765.71 70.85 766.96 70.85 770.67 70.86 774.38 70.92 778.09 71.02 781.8 71.16 785.5 71.33 789.2 71.55 792.91 71.8 796.6 72.09 800.3 72.42 803.99 72.79 807.68 73.2 811.36 73.65 815.04 74.14 818.71 74.66 822.38 75.23 826.04 75.83 829.7 76.47 833.34 77.15 836.98 77.87 840.62 78.62 844.24 79.42 847.86 80.25 851.46 81.12 855.06 82.03 858.65 82.97 862.22 83.96 865.79 84.98 869.35 86.04 872.89 87.13 876.43 88.27 879.95 89.44 883.46 90.64 886.95 91.89 890.43 93.17 893.9 94.49 897.36 95.84 900.8 97.23 904.22 98.66 907.63 100.12 911.03 101.62 914.41 103.15 917.77 104.72 921.12 106.32 924.45 107.96 927.76 109.64 931.05 111.35 934.33 113.09 937.59 114.87 940.83 116.68 944.04 118.53 947.24 120.41 950.42 122.32 953.58 124.27 956.72 126.25 959.84 128.26 962.94 130.31 966.01 132.38 969.07 134.49 972.1 136.64 975.11 138.81 978.09 141.02 981.05 143.25 983.99 145.52 986.91 147.82 989.8 150.15 992.66 152.51 995.5 154.9 998.32 157.32 1001.11 159.77 1003.87 162.24 1006.61 164.75 1009.32 167.29 1012.01 169.85 1014.66 172.44 1017.29 175.06 1019.9 177.71 1022.47 180.39 1025.02 183.09 1027.54 185.82 1030.02 188.57 1032.49 191.35 1034.92 194.16 1037.32 196.99 1039.69 199.85 1042.03 202.73 1044.34 205.64 1046.62 208.57 1048.87 211.52 1051.09 214.5 1053.28 217.5 1055.43 220.52 1057.56 223.57 1059.65 226.64 1061.71 229.73 1063.73 232.84 1065.73 235.97 1067.69 239.13 1069.61 242.3 1071.51 245.49 1073.37 248.71 1075.2 251.94 1076.99 255.19 1078.75 258.47 1080.47 261.76 1082.16 265.06 1083.82 268.39 1085.44 271.73 1087.02 275.09 1088.57 278.46 1090.08 281.86 1091.56 285.26 1093 288.69 1094.41 292.12 1095.78 295.58 1097.11 299.04 1098.41 302.52 1099.67 306.02 1100.9 309.53 1102.08 313.05 1103.23 316.58 1104.35 320.12 1105.42 323.68 1106.46 327.24 1107.46 330.82 1108.42 334.41 1109.35 338.01 1110.24 341.61 1111.09 345.23 1111.9 348.85 1112.67 352.49 1113.41 356.13 1114.11 359.78 1114.77 363.43 1115.39 367.1 1115.97 370.76 1116.51 374.44 1117.02 378.12 1117.49 381.81 1117.91 385.5 1118.3 389.19 1118.65 392.89 1118.96 396.59 1119.24 400.3 1119.47 404 1119.66 407.71 1119.82 411.43 1119.94 415.14 1120.02 418.85 1120.05 422.57 1120.05 426.28 1120.02 430 1119.94 433.71 1119.82 437.42 1119.66 441.14 1119.47 444.85 1119.24 448.55 1118.96 452.26 1118.65 455.96 1118.3 459.66 1117.91 463.35 1117.49 467.04 1117.02 470.73 1116.51 474.41 1115.97 478.09 1115.39 481.75 1114.77 485.42 1114.11 489.07 1113.41 492.72 1112.67 496.36 1111.9 500 1111.09 503.62 1110.24 507.24 1109.35 510.84 1108.42 514.44 1107.46 518.03 1106.46 521.61 1105.42 525.17 1104.35 528.73 1103.23 532.27 1102.08 535.8 1100.9 539.32 1099.67 542.83 1098.41 546.33 1097.11 549.81 1095.78 553.27 1094.41 556.73 1093 560.16 1091.56 563.59 1090.08 566.99 1088.57 570.39 1087.02 573.76 1085.44 577.12 1083.82 580.46 1082.16 583.79 1080.47 587.09 1078.75 590.38 1076.99 593.66 1075.2 596.91 1073.37 600.14 1071.51 603.36 1069.61 606.55 1067.69 609.72 1065.73 612.88 1063.73 616.01 1061.71 619.12 1059.65 622.21 1057.56 625.28 1055.43 628.33 1053.28 631.35 1051.09 634.35 1048.87 637.33 1046.62 640.28 1044.34 643.21 1042.03 646.12 1039.69 649 1037.32 651.86 1034.92 654.69 1032.49 657.5 1030.02 660.28 1027.54 663.03 1025.02 665.76 1022.47 668.46 1019.9 671.14 1017.29 673.79 1014.66 676.41 1012.01 679 1009.32 681.56 1006.61 684.1 1003.87 686.61 1001.11 689.08 998.32 691.53 995.5 693.95 992.66 696.34 989.8 698.7 986.91 701.03 983.99 703.33 981.05 705.6 978.09 707.83 975.11 710.04 972.1 712.21 969.07 714.36 966.01 716.47 962.94 718.54 959.84 720.59 956.72 722.6 953.58 724.58 950.42 726.53 947.24 728.44 944.04 730.32 940.83 732.17 937.59 733.98 934.33 735.76 931.05 737.5 927.76 739.21 924.45 740.89 921.12 742.53 917.77 744.13 914.41 745.7 911.03 747.23 907.63 748.73 904.22 750.19 900.8 751.62 897.36 753.01 893.9 754.36 890.43 755.68 886.95 756.96 883.46 758.21 879.95 759.41 876.43 760.58 872.89 761.72 869.35 762.81 865.79 763.87 862.22 764.89 858.65 765.88 855.06 766.82 851.46 767.73 847.86 768.6 844.24 769.43 840.62 770.23 836.98 770.98 833.34 771.7 829.7 772.38 826.04 773.02 822.38 773.62 818.71 774.19 815.04 774.71 811.36 775.2 807.68 775.65 803.99 776.06 800.3 776.43 796.6 776.76 792.91 777.05 789.2 777.3 785.5 777.52 781.8 777.69 778.09 777.83 774.38 777.93 770.67 777.99 766.96 778 765.71 778 764.46 778 763.21 777.99 761.96 777.97 760.71 777.95 759.46 777.93 758.21 777.9 756.97 777.86 755.72 777.83 754.47 777.78 753.22 777.74 751.97 777.69 750.72 777.63 749.47 777.57 748.22 777.51 746.97 777.44 745.72 777.36 744.47 777.29 743.22 777.21 741.97 777.12 740.72 777.03 739.48 776.93 738.23 776.83 736.98 776.73 735.73 776.62 734.48 776.51 733.23 776.39 731.98 776.27 730.73 776.14 729.48 776.01 728.23 775.87 726.98 775.73 725.73 775.59 724.48 775.44 723.23 775.28 721.99 775.13 720.74 774.96 719.49 774.79 718.24 774.62 716.99 774.45 715.74 774.27 714.49 774.08 713.24 773.89 711.99 773.69 710.74 773.49 709.49 773.29 708.24 773.08 706.99 772.87 705.75 772.65 704.5 772.43 703.25 772.2 702 771.97 700.75 771.73 699.5 771.49 698.25 771.25 697 771 695.75 770.74 694.5 770.48 693.25 770.22 692 769.95 690.75 769.67 689.5 769.39 688.26 769.11 687.01 768.82 685.76 768.53 684.51 768.23 683.26 767.93 682.01 767.62 680.76 767.31 679.51 766.99 678.26 766.67 677.01 766.34 675.76 766.01 674.51 765.67 673.26 765.33 672.01 764.98 670.77 764.63 669.52 764.27 668.27 763.91 667.02 763.55 665.77 763.17 664.52 762.8 663.27 762.42 662.02 762.03 660.77 761.64 659.52 761.24 658.27 760.84 657.02 760.43 655.77 760.02 654.53 759.6 653.28 759.18 652.03 758.75 650.78 758.32 649.53 757.88 648.28 757.43 647.03 756.99 645.78 756.53 644.53 756.07 643.28 755.61 642.03 755.14 640.78 754.66 639.53 754.18 638.28 753.69 637.04 753.2 635.79 752.7 634.54 752.2 633.29 751.69 632.04 751.17 630.79 750.65 629.54 750.13 628.29 749.6 627.04 749.06 625.79 748.52 624.54 747.97 623.29 747.42 622.04 746.86 620.79 746.29 619.55 745.72 618.3 745.14 617.05 744.56 615.8 743.97 614.55 743.37 613.3 742.77 612.05 742.16 610.8 741.55 609.55 740.93 608.3 740.3 607.05 739.67 605.8 739.03 604.55 738.39 603.3 737.73 602.06 737.08 600.81 736.41 599.56 735.74 598.31 735.07 597.06 734.38 595.81 733.69 594.56 733 593.31 732.29 592.06 731.58 590.81 730.87 589.56 730.14 588.31 729.41 587.06 728.68 585.82 727.93 584.57 727.18 583.32 726.42 582.07 725.66 580.82 724.88 579.57 724.1 578.32 723.32 577.07 722.52 575.82 721.72 574.57 720.91 573.32 720.1 572.07 719.27 570.82 718.44 569.57 717.6 568.33 716.75 567.08 715.9 565.83 715.04 564.58 714.16 563.33 713.29 562.08 712.4 560.83 711.5 559.58 710.6 558.33 709.69 557.08 708.77 555.83 707.84 554.58 706.9 553.33 705.95 552.08 705 550.84 704.04 549.59 703.06 548.34 702.08 547.09 701.09 545.84 700.09 544.59 699.08 543.34 698.06 542.09 697.03 540.84 695.99 539.59 694.95 538.34 693.89 537.09 692.82 535.84 691.74 534.59 690.66 533.35 689.56 532.1 688.45 530.85 687.33 529.6 686.2 528.35 685.06 527.1 683.9 525.85 682.74 524.6 681.57 523.35 680.38 522.1 679.18 520.85 677.97 519.6 676.75 518.35 675.51 517.11 674.27 515.86 673.01 514.61 671.78 513.36 670.57 512.11 669.38 510.86 668.19 509.61 667.01 508.36 665.85 507.11 664.7 505.86 663.56 504.61 662.43 503.36 661.31 502.11 660.2 500.86 659.1 499.62 658.01 498.37 656.93 497.12 655.87 495.87 654.81 494.62 653.76 493.37 652.72 492.12 651.69 490.87 650.67 489.62 649.66 488.37 648.66 487.12 647.67 485.87 646.69 484.62 645.72 483.37 644.76 482.13 643.8 480.88 642.85 479.63 641.92 478.38 640.99 477.13 640.07 475.88 639.16 474.63 638.25 473.38 637.36 472.13 636.47 470.88 635.59 469.63 634.72 468.38 633.86 467.13 633 465.88 632.15 464.64 631.31 463.39 630.48 462.14 629.66 460.89 628.84 459.64 628.03 458.39 627.23 457.14 626.44 455.89 625.65 454.64 624.87 453.39 624.1 452.14 623.33 450.89 622.57 449.64 621.82 448.4 621.08 447.15 620.34 445.9 619.61 444.65 618.89 443.4 618.17 442.15 617.46 440.9 616.76 439.65 616.06 438.4 615.37 437.15 614.69 435.9 614.01 434.65 613.34 433.4 612.68 432.15 612.02 430.91 611.37 429.66 610.72 428.41 610.09 427.16 609.45 425.91 608.83 424.66 608.21 423.41 607.59 422.16 606.99 420.91 606.38 419.66 605.79 418.41 605.2 417.16 604.62 415.91 604.04 414.66 603.47 413.42 602.9 412.17 602.34 410.92 601.79 409.67 601.24 408.42 600.69 407.17 600.16 405.92 599.63 404.67 599.1 403.42 598.58 402.17 598.07 400.92 597.56 399.67 597.05 398.42 596.56 397.18 596.06 395.93 595.58 394.68 595.1 393.43 594.62 392.18 594.15 390.93 593.68 389.68 593.22 388.43 592.77 387.18 592.32 385.93 591.88 384.68 591.44 383.43 591 382.18 590.58 380.93 590.15 379.69 589.74 378.44 589.32 377.19 588.92 375.94 588.51 374.69 588.12 373.44 587.73 372.19 587.34 370.94 586.96 369.69 586.58 368.44 586.21 367.19 585.84 365.94 585.48 364.69 585.12 363.44 584.77 362.2 584.43 360.95 584.08 359.7 583.75 358.45 583.41 357.2 583.09 355.95 582.77 354.7 582.45 353.45 582.14 352.2 581.83 350.95 581.52 349.7 581.23 348.45 580.93 347.2 580.65 345.95 580.36 344.71 580.08 343.46 579.81 342.21 579.54 340.96 579.27 339.71 579.01 338.46 578.76 337.21 578.51 335.96 578.26 334.71 578.02 333.46 577.79 332.21 577.55 330.96 577.33 329.71 577.1 328.47 576.89 327.22 576.67 325.97 576.46 324.72 576.26 323.47 576.06 322.22 575.87 320.97 575.68 319.72 575.49 318.47 575.31 317.22 575.13 315.97 574.96 314.72 574.79 313.47 574.63 312.22 574.47 310.98 574.32 309.73 574.17 308.48 574.02 307.23 573.88 305.98 573.75 304.73 573.62 303.48 573.49 302.23 573.37 300.98 573.25 299.73 573.14 298.48 573.03 297.23 572.92 295.98 572.82 294.73 572.73 293.49 572.64 292.24 572.55 290.99 572.47 289.74 572.39 288.49 572.32 287.24 572.25 285.99 572.18 284.74 572.12 283.49 572.07 282.24 572.02 280.99 571.97 279.74 571.93 278.49 571.89 277.24 571.86 276 571.83 274.75 571.81 273.5 571.79 272.25 571.77 271 571.76 269.75 571.75 268.5 571.75" stroke="#000" stroke-width="4.3" stroke-dasharray="15.5 16"/>
</g>
<rect x="268.5" y="1.2" width="1083" height="854.1" fill="none" stroke="#111" stroke-width="2.8"/>
<g fill="none" clip-path="url(#clipB)">
<path d="M273.2 1436.5 275.75 1436.5 278.2 1436.5 280.55 1436.49 282.81 1436.47 284.98 1436.45 287.07 1436.41 289.09 1436.37 291.05 1436.3 292.94 1436.22 294.78 1436.12 296.57 1436 298.31 1435.86 300.01 1435.69 301.67 1435.5 303.31 1435.28 304.91 1435.03 306.49 1434.76 308.06 1434.46 309.61 1434.12 311.15 1433.75 312.68 1433.35 314.21 1432.92 315.74 1432.45 317.27 1431.95 318.81 1431.41 320.36 1430.83 321.92 1430.22 323.5 1429.57 325.09 1428.88 326.71 1428.16 328.34 1427.4 330.01 1426.6 331.69 1425.76 333.41 1424.88 335.16 1423.96 336.94 1423.01 338.75 1422.02 340.61 1420.99 342.49 1419.92 344.42 1418.81 346.39 1417.67 348.4 1416.49 350.45 1415.27 352.54 1414.02 354.68 1412.73 356.86 1411.4 359.09 1410.05 361.37 1408.65 363.69 1407.23 366.06 1405.77 368.48 1404.28 370.95 1402.76 373.47 1401.2 376.03 1399.62 378.64 1398.01 381.31 1396.37 384.02 1394.71 386.78 1393.02 389.59 1391.3 392.45 1389.56 395.36 1387.8 398.31 1386.01 401.32 1384.21 404.37 1382.38 407.47 1380.54 410.62 1378.68 413.81 1376.8 417.05 1374.9 420.34 1373 423.67 1371.07 427.05 1369.14 430.47 1367.2 433.93 1365.25 437.44 1363.29 440.98 1361.32 444.57 1359.34 448.2 1357.37 451.87 1355.39 455.58 1353.4 459.33 1351.42 463.11 1349.44 466.94 1347.46 470.8 1345.48 474.69 1343.51 478.62 1341.54 482.59 1339.58 486.58 1337.63 490.61 1335.68 494.68 1333.75 498.77 1331.83 502.9 1329.92 507.05 1328.03 511.24 1326.15 515.46 1324.29 519.7 1322.44 523.97 1320.62 528.27 1318.81 532.6 1317.03 536.95 1315.26 541.34 1313.52 545.74 1311.81 550.18 1310.12 554.63 1308.45 559.12 1306.81 563.63 1305.2 568.17 1303.62 572.73 1302.07 577.31 1300.55 581.93 1299.06 586.57 1297.6 591.23 1296.17 595.92 1294.78 600.64 1293.42 605.38 1292.1 610.16 1290.81 614.96 1289.55 619.79 1288.34 624.65 1287.16 629.54 1286.01 634.47 1284.91 639.42 1283.84 644.41 1282.81 649.44 1281.82 654.5 1280.86 659.6 1279.95 664.74 1279.07 669.92 1278.23 675.15 1277.43 680.42 1276.67 685.73 1275.94 691.1 1275.25 696.51 1274.6 701.98 1273.99 707.5 1273.42 713.09 1272.88 718.73 1272.37 724.44 1271.91 730.21 1271.47 736.06 1271.07 741.97 1270.7 747.97 1270.37 754.04 1270.06 760.2 1269.79 766.44 1269.54 772.78 1269.33 779.21 1269.14 785.74 1268.97 792.37 1268.83 799.11 1268.7 805.97 1268.6 812.94 1268.52 820.04 1268.46 827.26 1268.41 834.62 1268.37 842.12 1268.35 849.76 1268.34 857.55 1268.33 865.5 1268.33 873.61 1268.33" stroke="#9a9a9a" stroke-width="3" stroke-dasharray="3.5 4"/>
<path d="M273.2 1676.75 275.75 1676.75 278.2 1676.75 280.55 1676.76 282.81 1676.78 284.98 1676.8 287.07 1676.84 289.09 1676.88 291.05 1676.95 292.94 1677.03 294.78 1677.13 296.57 1677.25 298.31 1677.39 300.01 1677.56 301.67 1677.75 303.31 1677.97 304.91 1678.22 306.49 1678.49 308.06 1678.79 309.61 1679.13 311.15 1679.5 312.68 1679.9 314.21 1680.33 315.74 1680.8 317.27 1681.3 318.81 1681.84 320.36 1682.42 321.92 1683.03 323.5 1683.68 325.09 1684.37 326.71 1685.09 328.34 1685.85 330.01 1686.65 331.69 1687.49 333.41 1688.37 335.16 1689.29 336.94 1690.24 338.75 1691.23 340.61 1692.26 342.49 1693.33 344.42 1694.44 346.39 1695.58 348.4 1696.76 350.45 1697.98 352.54 1699.23 354.68 1700.52 356.86 1701.85 359.09 1703.2 361.37 1704.6 363.69 1706.02 366.06 1707.48 368.48 1708.97 370.95 1710.49 373.47 1712.05 376.03 1713.63 378.64 1715.24 381.31 1716.88 384.02 1718.54 386.78 1720.23 389.59 1721.95 392.45 1723.69 395.36 1725.45 398.31 1727.24 401.32 1729.04 404.37 1730.87 407.47 1732.71 410.62 1734.57 413.81 1736.45 417.05 1738.35 420.34 1740.25 423.67 1742.18 427.05 1744.11 430.47 1746.05 433.93 1748 437.44 1749.96 440.98 1751.93 444.57 1753.91 448.2 1755.88 451.87 1757.86 455.58 1759.85 459.33 1761.83 463.11 1763.81 466.94 1765.79 470.8 1767.77 474.69 1769.74 478.62 1771.71 482.59 1773.67 486.58 1775.62 490.61 1777.57 494.68 1779.5 498.77 1781.42 502.9 1783.33 507.05 1785.22 511.24 1787.1 515.46 1788.96 519.7 1790.81 523.97 1792.63 528.27 1794.44 532.6 1796.22 536.95 1797.99 541.34 1799.73 545.74 1801.44 550.18 1803.13 554.63 1804.8 559.12 1806.44 563.63 1808.05 568.17 1809.63 572.73 1811.18 577.31 1812.7 581.93 1814.19 586.57 1815.65 591.23 1817.08 595.92 1818.47 600.64 1819.83 605.38 1821.15 610.16 1822.44 614.96 1823.7 619.79 1824.91 624.65 1826.09 629.54 1827.24 634.47 1828.34 639.42 1829.41 644.41 1830.44 649.44 1831.43 654.5 1832.39 659.6 1833.3 664.74 1834.18 669.92 1835.02 675.15 1835.82 680.42 1836.58 685.73 1837.31 691.1 1838 696.51 1838.65 701.98 1839.26 707.5 1839.83 713.09 1840.37 718.73 1840.88 724.44 1841.34 730.21 1841.78 736.06 1842.18 741.97 1842.55 747.97 1842.88 754.04 1843.19 760.2 1843.46 766.44 1843.71 772.78 1843.92 779.21 1844.11 785.74 1844.28 792.37 1844.42 799.11 1844.55 805.97 1844.65 812.94 1844.73 820.04 1844.79 827.26 1844.84 834.62 1844.88 842.12 1844.9 849.76 1844.91 857.55 1844.92 865.5 1844.92 873.61 1844.92" stroke="#9a9a9a" stroke-width="3" stroke-dasharray="3.5 4"/>
<path d="M273.2 1436.5 277.84 1436.5 282.34 1436.5 286.73 1436.49 291 1436.47 295.16 1436.45 299.21 1436.41 303.16 1436.37 307.01 1436.3 310.78 1436.22 314.45 1436.12 318.05 1436 321.57 1435.86 325.01 1435.69 328.39 1435.5 331.7 1435.28 334.95 1435.03 338.14 1434.76 341.28 1434.46 344.37 1434.12 347.42 1433.75 350.42 1433.35 353.38 1432.92 356.3 1432.45 359.19 1431.95 362.06 1431.41 364.89 1430.83 367.7 1430.22 370.49 1429.57 373.26 1428.88 376.01 1428.16 378.74 1427.4 381.47 1426.6 384.18 1425.76 386.89 1424.88 389.59 1423.96 392.29 1423.01 394.98 1422.02 397.68 1420.99 400.37 1419.92 403.07 1418.81 405.78 1417.67 408.48 1416.49 411.2 1415.27 413.93 1414.02 416.66 1412.73 419.41 1411.4 422.17 1410.05 424.94 1408.65 427.73 1407.23 430.53 1405.77 433.35 1404.28 436.19 1402.76 439.04 1401.2 441.91 1399.62 444.8 1398.01 447.71 1396.37 450.64 1394.71 453.6 1393.02 456.57 1391.3 459.56 1389.56 462.58 1387.8 465.61 1386.01 468.67 1384.21 471.76 1382.38 474.86 1380.54 477.99 1378.68 481.14 1376.8 484.31 1374.9 487.51 1373 490.73 1371.07 493.97 1369.14 497.24 1367.2 500.53 1365.25 503.84 1363.29 507.18 1361.32 510.53 1359.34 513.91 1357.37 517.32 1355.39 520.74 1353.4 524.19 1351.42 527.66 1349.44 531.15 1347.46 534.66 1345.48 538.19 1343.51 541.75 1341.54 545.32 1339.58 548.92 1337.63 552.53 1335.68 556.17 1333.75 559.82 1331.83 563.49 1329.92 567.19 1328.03 570.9 1326.15 574.63 1324.29 578.38 1322.44 582.15 1320.62 585.94 1318.81 589.74 1317.03 593.56 1315.26 597.4 1313.52 601.26 1311.81 605.14 1310.12 609.03 1308.45 612.94 1306.81 616.87 1305.2 620.82 1303.62 624.78 1302.07 628.77 1300.55 632.77 1299.06 636.78 1297.6 640.82 1296.17 644.87 1294.78 648.95 1293.42 653.04 1292.1 657.15 1290.81 661.29 1289.55 665.44 1288.34 669.61 1287.16 673.81 1286.01 678.03 1284.91 682.27 1283.84 686.53 1282.81 690.82 1281.82 695.13 1280.86 699.47 1279.95 703.83 1279.07 708.23 1278.23 712.65 1277.43 717.1 1276.67 721.59 1275.94 726.1 1275.25 730.65 1274.6 735.24 1273.99 739.86 1273.42 744.53 1272.88 749.23 1272.37 753.97 1271.91 758.76 1271.47 763.59 1271.07 768.48 1270.7 773.41 1270.37 778.39 1270.06 783.43 1269.79 788.52 1269.54 793.67 1269.33 798.89 1269.14 804.17 1268.97 809.51 1268.83 814.93 1268.7 820.41 1268.6 825.98 1268.52 831.62 1268.46 837.34 1268.41 843.15 1268.37 849.05 1268.35 855.04 1268.34 861.13 1268.33 867.32 1268.33 873.61 1268.33" stroke="#8e9a3c" stroke-width="3" stroke-dasharray="14 5 4 5"/>
<path d="M273.2 1676.75 277.84 1676.75 282.34 1676.75 286.73 1676.76 291 1676.78 295.16 1676.8 299.21 1676.84 303.16 1676.88 307.01 1676.95 310.78 1677.03 314.45 1677.13 318.05 1677.25 321.57 1677.39 325.01 1677.56 328.39 1677.75 331.7 1677.97 334.95 1678.22 338.14 1678.49 341.28 1678.79 344.37 1679.13 347.42 1679.5 350.42 1679.9 353.38 1680.33 356.3 1680.8 359.19 1681.3 362.06 1681.84 364.89 1682.42 367.7 1683.03 370.49 1683.68 373.26 1684.37 376.01 1685.09 378.74 1685.85 381.47 1686.65 384.18 1687.49 386.89 1688.37 389.59 1689.29 392.29 1690.24 394.98 1691.23 397.68 1692.26 400.37 1693.33 403.07 1694.44 405.78 1695.58 408.48 1696.76 411.2 1697.98 413.93 1699.23 416.66 1700.52 419.41 1701.85 422.17 1703.2 424.94 1704.6 427.73 1706.02 430.53 1707.48 433.35 1708.97 436.19 1710.49 439.04 1712.05 441.91 1713.63 444.8 1715.24 447.71 1716.88 450.64 1718.54 453.6 1720.23 456.57 1721.95 459.56 1723.69 462.58 1725.45 465.61 1727.24 468.67 1729.04 471.76 1730.87 474.86 1732.71 477.99 1734.57 481.14 1736.45 484.31 1738.35 487.51 1740.25 490.73 1742.18 493.97 1744.11 497.24 1746.05 500.53 1748 503.84 1749.96 507.18 1751.93 510.53 1753.91 513.91 1755.88 517.32 1757.86 520.74 1759.85 524.19 1761.83 527.66 1763.81 531.15 1765.79 534.66 1767.77 538.19 1769.74 541.75 1771.71 545.32 1773.67 548.92 1775.62 552.53 1777.57 556.17 1779.5 559.82 1781.42 563.49 1783.33 567.19 1785.22 570.9 1787.1 574.63 1788.96 578.38 1790.81 582.15 1792.63 585.94 1794.44 589.74 1796.22 593.56 1797.99 597.4 1799.73 601.26 1801.44 605.14 1803.13 609.03 1804.8 612.94 1806.44 616.87 1808.05 620.82 1809.63 624.78 1811.18 628.77 1812.7 632.77 1814.19 636.78 1815.65 640.82 1817.08 644.87 1818.47 648.95 1819.83 653.04 1821.15 657.15 1822.44 661.29 1823.7 665.44 1824.91 669.61 1826.09 673.81 1827.24 678.03 1828.34 682.27 1829.41 686.53 1830.44 690.82 1831.43 695.13 1832.39 699.47 1833.3 703.83 1834.18 708.23 1835.02 712.65 1835.82 717.1 1836.58 721.59 1837.31 726.1 1838 730.65 1838.65 735.24 1839.26 739.86 1839.83 744.53 1840.37 749.23 1840.88 753.97 1841.34 758.76 1841.78 763.59 1842.18 768.48 1842.55 773.41 1842.88 778.39 1843.19 783.43 1843.46 788.52 1843.71 793.67 1843.92 798.89 1844.11 804.17 1844.28 809.51 1844.42 814.93 1844.55 820.41 1844.65 825.98 1844.73 831.62 1844.79 837.34 1844.84 843.15 1844.88 849.05 1844.9 855.04 1844.91 861.13 1844.92 867.32 1844.92 873.61 1844.92" stroke="#8e9a3c" stroke-width="3" stroke-dasharray="14 5 4 5"/>
<path d="M273.2 1436.5 277.74 1436.5 282.27 1436.5 286.78 1436.49 291.27 1436.47 295.74 1436.45 300.19 1436.41 304.63 1436.37 309.04 1436.3 313.43 1436.22 317.8 1436.12 322.15 1436 326.48 1435.86 330.79 1435.69 335.07 1435.5 339.33 1435.28 343.57 1435.03 347.78 1434.76 351.97 1434.46 356.13 1434.12 360.27 1433.75 364.39 1433.35 368.48 1432.92 372.55 1432.45 376.59 1431.95 380.61 1431.41 384.6 1430.83 388.57 1430.22 392.52 1429.57 396.44 1428.88 400.33 1428.16 404.2 1427.4 408.05 1426.6 411.88 1425.76 415.68 1424.88 419.45 1423.96 423.21 1423.01 426.94 1422.02 430.65 1420.99 434.33 1419.92 438 1418.81 441.64 1417.67 445.26 1416.49 448.86 1415.27 452.44 1414.02 456 1412.73 459.54 1411.4 463.06 1410.05 466.57 1408.65 470.05 1407.23 473.52 1405.77 476.96 1404.28 480.4 1402.76 483.81 1401.2 487.21 1399.62 490.6 1398.01 493.97 1396.37 497.32 1394.71 500.67 1393.02 504 1391.3 507.31 1389.56 510.62 1387.8 513.92 1386.01 517.2 1384.21 520.48 1382.38 523.74 1380.54 527 1378.68 530.25 1376.8 533.49 1374.9 536.73 1373 539.96 1371.07 543.19 1369.14 546.41 1367.2 549.62 1365.25 552.84 1363.29 556.05 1361.32 559.26 1359.34 562.47 1357.37 565.68 1355.39 568.89 1353.4 572.1 1351.42 575.31 1349.44 578.53 1347.46 581.75 1345.48 584.97 1343.51 588.2 1341.54 591.43 1339.58 594.67 1337.63 597.91 1335.68 601.16 1333.75 604.42 1331.83 607.69 1329.92 610.97 1328.03 614.26 1326.15 617.56 1324.29 620.87 1322.44 624.19 1320.62 627.52 1318.81 630.87 1317.03 634.23 1315.26 637.6 1313.52 640.99 1311.81 644.4 1310.12 647.82 1308.45 651.25 1306.81 654.71 1305.2 658.18 1303.62 661.67 1302.07 665.17 1300.55 668.7 1299.06 672.25 1297.6 675.81 1296.17 679.4 1294.78 683 1293.42 686.63 1292.1 690.28 1290.81 693.95 1289.55 697.64 1288.34 701.36 1287.16 705.09 1286.01 708.85 1284.91 712.64 1283.84 716.44 1282.81 720.27 1281.82 724.13 1280.86 728.01 1279.95 731.91 1279.07 735.83 1278.23 739.79 1277.43 743.76 1276.67 747.76 1275.94 751.79 1275.25 755.83 1274.6 759.91 1273.99 764.01 1273.42 768.13 1272.88 772.27 1272.37 776.44 1271.91 780.64 1271.47 784.86 1271.07 789.1 1270.7 793.36 1270.37 797.65 1270.06 801.96 1269.79 806.29 1269.54 810.65 1269.33 815.02 1269.14 819.42 1268.97 823.84 1268.83 828.27 1268.7 832.73 1268.6 837.21 1268.52 841.7 1268.46 846.21 1268.41 850.74 1268.37 855.29 1268.35 859.84 1268.34 864.42 1268.33 869.01 1268.33 873.61 1268.33" stroke="#b51f45" stroke-width="3.8"/>
<path d="M273.2 1676.75 277.74 1676.75 282.27 1676.75 286.78 1676.76 291.27 1676.78 295.74 1676.8 300.19 1676.84 304.63 1676.88 309.04 1676.95 313.43 1677.03 317.8 1677.13 322.15 1677.25 326.48 1677.39 330.79 1677.56 335.07 1677.75 339.33 1677.97 343.57 1678.22 347.78 1678.49 351.97 1678.79 356.13 1679.13 360.27 1679.5 364.39 1679.9 368.48 1680.33 372.55 1680.8 376.59 1681.3 380.61 1681.84 384.6 1682.42 388.57 1683.03 392.52 1683.68 396.44 1684.37 400.33 1685.09 404.2 1685.85 408.05 1686.65 411.88 1687.49 415.68 1688.37 419.45 1689.29 423.21 1690.24 426.94 1691.23 430.65 1692.26 434.33 1693.33 438 1694.44 441.64 1695.58 445.26 1696.76 448.86 1697.98 452.44 1699.23 456 1700.52 459.54 1701.85 463.06 1703.2 466.57 1704.6 470.05 1706.02 473.52 1707.48 476.96 1708.97 480.4 1710.49 483.81 1712.05 487.21 1713.63 490.6 1715.24 493.97 1716.88 497.32 1718.54 500.67 1720.23 504 1721.95 507.31 1723.69 510.62 1725.45 513.92 1727.24 517.2 1729.04 520.48 1730.87 523.74 1732.71 527 1734.57 530.25 1736.45 533.49 1738.35 536.73 1740.25 539.96 1742.18 543.19 1744.11 546.41 1746.05 549.62 1748 552.84 1749.96 556.05 1751.93 559.26 1753.91 562.47 1755.88 565.68 1757.86 568.89 1759.85 572.1 1761.83 575.31 1763.81 578.53 1765.79 581.75 1767.77 584.97 1769.74 588.2 1771.71 591.43 1773.67 594.67 1775.62 597.91 1777.57 601.16 1779.5 604.42 1781.42 607.69 1783.33 610.97 1785.22 614.26 1787.1 617.56 1788.96 620.87 1790.81 624.19 1792.63 627.52 1794.44 630.87 1796.22 634.23 1797.99 637.6 1799.73 640.99 1801.44 644.4 1803.13 647.82 1804.8 651.25 1806.44 654.71 1808.05 658.18 1809.63 661.67 1811.18 665.17 1812.7 668.7 1814.19 672.25 1815.65 675.81 1817.08 679.4 1818.47 683 1819.83 686.63 1821.15 690.28 1822.44 693.95 1823.7 697.64 1824.91 701.36 1826.09 705.09 1827.24 708.85 1828.34 712.64 1829.41 716.44 1830.44 720.27 1831.43 724.13 1832.39 728.01 1833.3 731.91 1834.18 735.83 1835.02 739.79 1835.82 743.76 1836.58 747.76 1837.31 751.79 1838 755.83 1838.65 759.91 1839.26 764.01 1839.83 768.13 1840.37 772.27 1840.88 776.44 1841.34 780.64 1841.78 784.86 1842.18 789.1 1842.55 793.36 1842.88 797.65 1843.19 801.96 1843.46 806.29 1843.71 810.65 1843.92 815.02 1844.11 819.42 1844.28 823.84 1844.42 828.27 1844.55 832.73 1844.65 837.21 1844.73 841.7 1844.79 846.21 1844.84 850.74 1844.88 855.29 1844.9 859.84 1844.91 864.42 1844.92 869.01 1844.92 873.61 1844.92" stroke="#b51f45" stroke-width="3.8"/>
<path d="M273.2 1436.5 277.99 1436.5 282.8 1436.5 287.64 1436.49 292.49 1436.47 297.36 1436.45 302.24 1436.41 307.14 1436.37 312.05 1436.3 316.97 1436.22 321.89 1436.12 326.82 1436 331.75 1435.86 336.69 1435.69 341.62 1435.5 346.56 1435.28 351.49 1435.03 356.41 1434.76 361.33 1434.46 366.24 1434.12 371.15 1433.75 376.04 1433.35 380.93 1432.92 385.8 1432.45 390.65 1431.95 395.49 1431.41 400.32 1430.83 405.13 1430.22 409.92 1429.57 414.69 1428.88 419.44 1428.16 424.17 1427.4 428.88 1426.6 433.56 1425.76 438.23 1424.88 442.87 1423.96 447.48 1423.01 452.07 1422.02 456.63 1420.99 461.17 1419.92 465.68 1418.81 470.16 1417.67 474.61 1416.49 479.03 1415.27 483.43 1414.02 487.8 1412.73 492.13 1411.4 496.44 1410.05 500.72 1408.65 504.96 1407.23 509.18 1405.77 513.36 1404.28 517.52 1402.76 521.64 1401.2 525.73 1399.62 529.79 1398.01 533.82 1396.37 537.82 1394.71 541.79 1393.02 545.72 1391.3 549.63 1389.56 553.5 1387.8 557.35 1386.01 561.16 1384.21 564.94 1382.38 568.7 1380.54 572.42 1378.68 576.11 1376.8 579.78 1374.9 583.41 1373 587.02 1371.07 590.6 1369.14 594.15 1367.2 597.67 1365.25 601.17 1363.29 604.64 1361.32 608.08 1359.34 611.5 1357.37 614.89 1355.39 618.26 1353.4 621.6 1351.42 624.93 1349.44 628.22 1347.46 631.5 1345.48 634.75 1343.51 637.99 1341.54 641.2 1339.58 644.39 1337.63 647.56 1335.68 650.72 1333.75 653.86 1331.83 656.98 1329.92 660.08 1328.03 663.17 1326.15 666.24 1324.29 669.3 1322.44 672.35 1320.62 675.38 1318.81 678.41 1317.03 681.42 1315.26 684.42 1313.52 687.41 1311.81 690.39 1310.12 693.37 1308.45 696.34 1306.81 699.3 1305.2 702.26 1303.62 705.21 1302.07 708.16 1300.55 711.11 1299.06 714.05 1297.6 716.99 1296.17 719.94 1294.78 722.88 1293.42 725.83 1292.1 728.78 1290.81 731.73 1289.55 734.69 1288.34 737.65 1287.16 740.62 1286.01 743.59 1284.91 746.57 1283.84 749.56 1282.81 752.56 1281.82 755.58 1280.86 758.6 1279.95 761.63 1279.07 764.68 1278.23 767.74 1277.43 770.81 1276.67 773.9 1275.94 777.01 1275.25 780.13 1274.6 783.27 1273.99 786.43 1273.42 789.61 1272.88 792.81 1272.37 796.03 1271.91 799.28 1271.47 802.54 1271.07 805.83 1270.7 809.14 1270.37 812.48 1270.06 815.84 1269.79 819.23 1269.54 822.64 1269.33 826.08 1269.14 829.55 1268.97 833.05 1268.83 836.58 1268.7 840.14 1268.6 843.73 1268.52 847.35 1268.46 851 1268.41 854.69 1268.37 858.4 1268.35 862.15 1268.34 865.94 1268.33 869.75 1268.33 873.61 1268.33" stroke="#9c3fa8" stroke-width="4.8"/>
<path d="M273.2 1676.75 277.99 1676.75 282.8 1676.75 287.64 1676.76 292.49 1676.78 297.36 1676.8 302.24 1676.84 307.14 1676.88 312.05 1676.95 316.97 1677.03 321.89 1677.13 326.82 1677.25 331.75 1677.39 336.69 1677.56 341.62 1677.75 346.56 1677.97 351.49 1678.22 356.41 1678.49 361.33 1678.79 366.24 1679.13 371.15 1679.5 376.04 1679.9 380.93 1680.33 385.8 1680.8 390.65 1681.3 395.49 1681.84 400.32 1682.42 405.13 1683.03 409.92 1683.68 414.69 1684.37 419.44 1685.09 424.17 1685.85 428.88 1686.65 433.56 1687.49 438.23 1688.37 442.87 1689.29 447.48 1690.24 452.07 1691.23 456.63 1692.26 461.17 1693.33 465.68 1694.44 470.16 1695.58 474.61 1696.76 479.03 1697.98 483.43 1699.23 487.8 1700.52 492.13 1701.85 496.44 1703.2 500.72 1704.6 504.96 1706.02 509.18 1707.48 513.36 1708.97 517.52 1710.49 521.64 1712.05 525.73 1713.63 529.79 1715.24 533.82 1716.88 537.82 1718.54 541.79 1720.23 545.72 1721.95 549.63 1723.69 553.5 1725.45 557.35 1727.24 561.16 1729.04 564.94 1730.87 568.7 1732.71 572.42 1734.57 576.11 1736.45 579.78 1738.35 583.41 1740.25 587.02 1742.18 590.6 1744.11 594.15 1746.05 597.67 1748 601.17 1749.96 604.64 1751.93 608.08 1753.91 611.5 1755.88 614.89 1757.86 618.26 1759.85 621.6 1761.83 624.93 1763.81 628.22 1765.79 631.5 1767.77 634.75 1769.74 637.99 1771.71 641.2 1773.67 644.39 1775.62 647.56 1777.57 650.72 1779.5 653.86 1781.42 656.98 1783.33 660.08 1785.22 663.17 1787.1 666.24 1788.96 669.3 1790.81 672.35 1792.63 675.38 1794.44 678.41 1796.22 681.42 1797.99 684.42 1799.73 687.41 1801.44 690.39 1803.13 693.37 1804.8 696.34 1806.44 699.3 1808.05 702.26 1809.63 705.21 1811.18 708.16 1812.7 711.11 1814.19 714.05 1815.65 716.99 1817.08 719.94 1818.47 722.88 1819.83 725.83 1821.15 728.78 1822.44 731.73 1823.7 734.69 1824.91 737.65 1826.09 740.62 1827.24 743.59 1828.34 746.57 1829.41 749.56 1830.44 752.56 1831.43 755.58 1832.39 758.6 1833.3 761.63 1834.18 764.68 1835.02 767.74 1835.82 770.81 1836.58 773.9 1837.31 777.01 1838 780.13 1838.65 783.27 1839.26 786.43 1839.83 789.61 1840.37 792.81 1840.88 796.03 1841.34 799.28 1841.78 802.54 1842.18 805.83 1842.55 809.14 1842.88 812.48 1843.19 815.84 1843.46 819.23 1843.71 822.64 1843.92 826.08 1844.11 829.55 1844.28 833.05 1844.42 836.58 1844.55 840.14 1844.65 843.73 1844.73 847.35 1844.79 851 1844.84 854.69 1844.88 858.4 1844.9 862.15 1844.91 865.94 1844.92 869.75 1844.92 873.61 1844.92" stroke="#9c3fa8" stroke-width="4.8"/>
<path d="M273.2 1436.5 281.71 1436.5 290.04 1436.5 298.18 1436.49 306.14 1436.47 313.94 1436.45 321.57 1436.41 329.05 1436.37 336.37 1436.3 343.55 1436.22 350.58 1436.12 357.48 1436 364.25 1435.86 370.89 1435.69 377.42 1435.5 383.83 1435.28 390.12 1435.03 396.31 1434.76 402.4 1434.46 408.39 1434.12 414.28 1433.75 420.08 1433.35 425.8 1432.92 431.43 1432.45 436.99 1431.95 442.46 1431.41 447.87 1430.83 453.2 1430.22 458.47 1429.57 463.67 1428.88 468.81 1428.16 473.89 1427.4 478.92 1426.6 483.89 1425.76 488.81 1424.88 493.68 1423.96 498.5 1423.01 503.28 1422.02 508.02 1420.99 512.71 1419.92 517.36 1418.81 521.98 1417.67 526.56 1416.49 531.1 1415.27 535.61 1414.02 540.09 1412.73 544.54 1411.4 548.95 1410.05 553.34 1408.65 557.7 1407.23 562.03 1405.77 566.33 1404.28 570.61 1402.76 574.86 1401.2 579.09 1399.62 583.29 1398.01 587.47 1396.37 591.63 1394.71 595.76 1393.02 599.87 1391.3 603.96 1389.56 608.03 1387.8 612.07 1386.01 616.09 1384.21 620.09 1382.38 624.07 1380.54 628.03 1378.68 631.96 1376.8 635.87 1374.9 639.76 1373 643.62 1371.07 647.46 1369.14 651.28 1367.2 655.08 1365.25 658.85 1363.29 662.59 1361.32 666.31 1359.34 670.01 1357.37 673.68 1355.39 677.32 1353.4 680.94 1351.42 684.53 1349.44 688.09 1347.46 691.62 1345.48 695.13 1343.51 698.6 1341.54 702.05 1339.58 705.47 1337.63 708.85 1335.68 712.21 1333.75 715.53 1331.83 718.82 1329.92 722.08 1328.03 725.3 1326.15 728.49 1324.29 731.65 1322.44 734.77 1320.62 737.86 1318.81 740.91 1317.03 743.92 1315.26 746.9 1313.52 749.85 1311.81 752.75 1310.12 755.62 1308.45 758.45 1306.81 761.25 1305.2 764 1303.62 766.72 1302.07 769.4 1300.55 772.04 1299.06 774.65 1297.6 777.22 1296.17 779.75 1294.78 782.24 1293.42 784.69 1292.1 787.11 1290.81 789.49 1289.55 791.83 1288.34 794.14 1287.16 796.41 1286.01 798.65 1284.91 800.85 1283.84 803.02 1282.81 805.15 1281.82 807.25 1280.86 809.33 1279.95 811.37 1279.07 813.38 1278.23 815.36 1277.43 817.32 1276.67 819.25 1275.94 821.16 1275.25 823.05 1274.6 824.91 1273.99 826.76 1273.42 828.58 1272.88 830.39 1272.37 832.19 1271.91 833.98 1271.47 835.75 1271.07 837.52 1270.7 839.29 1270.37 841.05 1270.06 842.81 1269.79 844.58 1269.54 846.35 1269.33 848.13 1269.14 849.92 1268.97 851.72 1268.83 853.55 1268.7 855.39 1268.6 857.27 1268.52 859.16 1268.46 861.1 1268.41 863.07 1268.37 865.08 1268.35 867.13 1268.34 869.23 1268.33 871.39 1268.33 873.61 1268.33" stroke="#3e3b92" stroke-width="6.3"/>
<path d="M273.2 1676.75 281.71 1676.75 290.04 1676.75 298.18 1676.76 306.14 1676.78 313.94 1676.8 321.57 1676.84 329.05 1676.88 336.37 1676.95 343.55 1677.03 350.58 1677.13 357.48 1677.25 364.25 1677.39 370.89 1677.56 377.42 1677.75 383.83 1677.97 390.12 1678.22 396.31 1678.49 402.4 1678.79 408.39 1679.13 414.28 1679.5 420.08 1679.9 425.8 1680.33 431.43 1680.8 436.99 1681.3 442.46 1681.84 447.87 1682.42 453.2 1683.03 458.47 1683.68 463.67 1684.37 468.81 1685.09 473.89 1685.85 478.92 1686.65 483.89 1687.49 488.81 1688.37 493.68 1689.29 498.5 1690.24 503.28 1691.23 508.02 1692.26 512.71 1693.33 517.36 1694.44 521.98 1695.58 526.56 1696.76 531.1 1697.98 535.61 1699.23 540.09 1700.52 544.54 1701.85 548.95 1703.2 553.34 1704.6 557.7 1706.02 562.03 1707.48 566.33 1708.97 570.61 1710.49 574.86 1712.05 579.09 1713.63 583.29 1715.24 587.47 1716.88 591.63 1718.54 595.76 1720.23 599.87 1721.95 603.96 1723.69 608.03 1725.45 612.07 1727.24 616.09 1729.04 620.09 1730.87 624.07 1732.71 628.03 1734.57 631.96 1736.45 635.87 1738.35 639.76 1740.25 643.62 1742.18 647.46 1744.11 651.28 1746.05 655.08 1748 658.85 1749.96 662.59 1751.93 666.31 1753.91 670.01 1755.88 673.68 1757.86 677.32 1759.85 680.94 1761.83 684.53 1763.81 688.09 1765.79 691.62 1767.77 695.13 1769.74 698.6 1771.71 702.05 1773.67 705.47 1775.62 708.85 1777.57 712.21 1779.5 715.53 1781.42 718.82 1783.33 722.08 1785.22 725.3 1787.1 728.49 1788.96 731.65 1790.81 734.77 1792.63 737.86 1794.44 740.91 1796.22 743.92 1797.99 746.9 1799.73 749.85 1801.44 752.75 1803.13 755.62 1804.8 758.45 1806.44 761.25 1808.05 764 1809.63 766.72 1811.18 769.4 1812.7 772.04 1814.19 774.65 1815.65 777.22 1817.08 779.75 1818.47 782.24 1819.83 784.69 1821.15 787.11 1822.44 789.49 1823.7 791.83 1824.91 794.14 1826.09 796.41 1827.24 798.65 1828.34 800.85 1829.41 803.02 1830.44 805.15 1831.43 807.25 1832.39 809.33 1833.3 811.37 1834.18 813.38 1835.02 815.36 1835.82 817.32 1836.58 819.25 1837.31 821.16 1838 823.05 1838.65 824.91 1839.26 826.76 1839.83 828.58 1840.37 830.39 1840.88 832.19 1841.34 833.98 1841.78 835.75 1842.18 837.52 1842.55 839.29 1842.88 841.05 1843.19 842.81 1843.46 844.58 1843.71 846.35 1843.92 848.13 1844.11 849.92 1844.28 851.72 1844.42 853.55 1844.55 855.39 1844.65 857.27 1844.73 859.16 1844.79 861.1 1844.84 863.07 1844.88 865.08 1844.9 867.13 1844.91 869.23 1844.92 871.39 1844.92 873.61 1844.92" stroke="#3e3b92" stroke-width="6.3"/>
<path d="M873.61 1268.33A290.52 288.3 0 0 1 873.61 1844.92" stroke="#c9c9c9" stroke-width="2"/>
<path d="M273.2 1436.5 274.22 1436.5 275.24 1436.49 276.27 1436.48 277.29 1436.47 278.31 1436.46 279.33 1436.44 280.35 1436.41 281.37 1436.39 282.4 1436.36 283.42 1436.32 284.44 1436.28 285.46 1436.24 286.48 1436.2 287.51 1436.15 288.53 1436.1 289.55 1436.04 290.57 1435.98 291.59 1435.92 292.61 1435.86 293.64 1435.79 294.66 1435.71 295.68 1435.64 296.7 1435.56 297.72 1435.47 298.74 1435.38 299.77 1435.29 300.79 1435.2 301.81 1435.1 302.83 1435 303.85 1434.89 304.88 1434.78 305.9 1434.67 306.92 1434.55 307.94 1434.43 308.96 1434.31 309.98 1434.18 311.01 1434.05 312.03 1433.91 313.05 1433.77 314.07 1433.63 315.09 1433.49 316.12 1433.34 317.14 1433.18 318.16 1433.03 319.18 1432.87 320.2 1432.7 321.22 1432.53 322.25 1432.36 323.27 1432.19 324.29 1432.01 325.31 1431.82 326.33 1431.64 327.36 1431.45 328.38 1431.25 329.4 1431.05 330.42 1430.85 331.44 1430.65 332.46 1430.44 333.49 1430.22 334.51 1430.01 335.53 1429.79 336.55 1429.56 337.57 1429.33 338.59 1429.1 339.62 1428.87 340.64 1428.62 341.66 1428.38 342.68 1428.13 343.7 1427.88 344.73 1427.63 345.75 1427.37 346.77 1427.1 347.79 1426.84 348.81 1426.56 349.83 1426.29 350.86 1426.01 351.88 1425.73 352.9 1425.44 353.92 1425.15 354.94 1424.85 355.97 1424.55 356.99 1424.25 358.01 1423.94 359.03 1423.63 360.05 1423.32 361.07 1423 362.1 1422.67 363.12 1422.34 364.14 1422.01 365.16 1421.68 366.18 1421.33 367.21 1420.99 368.23 1420.64 369.25 1420.29 370.27 1419.93 371.29 1419.57 372.31 1419.2 373.34 1418.83 374.36 1418.46 375.38 1418.08 376.4 1417.7 377.42 1417.31 378.44 1416.92 379.47 1416.52 380.49 1416.12 381.51 1415.72 382.53 1415.31 383.55 1414.89 384.58 1414.47 385.6 1414.05 386.62 1413.62 387.64 1413.19 388.66 1412.75 389.68 1412.31 390.71 1411.87 391.73 1411.41 392.75 1410.96 393.77 1410.5 394.79 1410.03 395.82 1409.56 396.84 1409.09 397.86 1408.61 398.88 1408.13 399.9 1407.64 400.92 1407.14 401.95 1406.64 402.97 1406.14 403.99 1405.63 405.01 1405.12 406.03 1404.6 407.06 1404.08 408.08 1403.55 409.1 1403.01 410.12 1402.47 411.14 1401.93 412.16 1401.38 413.19 1400.82 414.21 1400.26 415.23 1399.7 416.25 1399.13 417.27 1398.55 418.29 1397.97 419.32 1397.38 420.34 1396.79 421.36 1396.19 422.38 1395.59 423.4 1394.98 424.43 1394.36 425.45 1393.74 426.47 1393.11 427.49 1392.48 428.51 1391.84 429.53 1391.2 430.56 1390.55 431.58 1389.89 432.6 1389.23 433.62 1388.56 434.64 1387.89 435.67 1387.21 436.69 1386.52 437.71 1385.83 438.73 1385.13 439.75 1384.42 440.77 1383.71 441.8 1382.99 442.82 1382.26 443.84 1381.53 444.86 1380.79 445.88 1380.04 446.91 1379.29 447.93 1378.53 448.95 1377.76 449.97 1376.99 450.99 1376.21 452.01 1375.42 453.04 1374.62 454.06 1373.82 455.08 1373.01 456.1 1372.19 457.12 1371.37 458.14 1370.54 459.17 1369.69 460.19 1368.85 461.21 1367.99 462.23 1366.81 463.25 1365.65 464.28 1364.51 465.3 1363.38 466.32 1362.27 467.34 1361.16 468.36 1360.07 469.38 1358.99 470.41 1357.92 471.43 1356.86 472.45 1355.81 473.47 1354.77 474.49 1353.74 475.52 1352.72 476.54 1351.71 477.56 1350.71 478.58 1349.72 479.6 1348.74 480.62 1347.77 481.65 1346.81 482.67 1345.86 483.69 1344.92 484.71 1343.99 485.73 1343.06 486.76 1342.15 487.78 1341.24 488.8 1340.34 489.82 1339.46 490.84 1338.57 491.86 1337.7 492.89 1336.84 493.91 1335.98 494.93 1335.13 495.95 1334.29 496.97 1333.46 498 1332.63 499.02 1331.81 500.04 1331 501.06 1330.2 502.08 1329.4 503.1 1328.62 504.13 1327.84 505.15 1327.06 506.17 1326.29 507.19 1325.53 508.21 1324.78 509.23 1324.04 510.26 1323.3 511.28 1322.56 512.3 1321.84 513.32 1321.12 514.34 1320.41 515.37 1319.7 516.39 1319 517.41 1318.31 518.43 1317.62 519.45 1316.94 520.47 1316.26 521.5 1315.6 522.52 1314.93 523.54 1314.28 524.56 1313.63 525.58 1312.98 526.61 1312.34 527.63 1311.71 528.65 1311.08 529.67 1310.46 530.69 1309.85 531.71 1309.24 532.74 1308.63 533.76 1308.04 534.78 1307.44 535.8 1306.86 536.82 1306.27 537.85 1305.7 538.87 1305.13 539.89 1304.56 540.91 1304 541.93 1303.45 542.95 1302.9 543.98 1302.35 545 1301.81 546.02 1301.28 547.04 1300.75 548.06 1300.23 549.08 1299.71 550.11 1299.19 551.13 1298.68 552.15 1298.18 553.17 1297.68 554.19 1297.19 555.22 1296.7 556.24 1296.21 557.26 1295.74 558.28 1295.26 559.3 1294.79 560.32 1294.33 561.35 1293.87 562.37 1293.41 563.39 1292.96 564.41 1292.51 565.43 1292.07 566.46 1291.64 567.48 1291.2 568.5 1290.78 569.52 1290.35 570.54 1289.93 571.56 1289.52 572.59 1289.11 573.61 1288.7 574.63 1288.3 575.65 1287.91 576.67 1287.52 577.7 1287.13 578.72 1286.75 579.74 1286.37 580.76 1285.99 581.78 1285.62 582.8 1285.26 583.83 1284.89 584.85 1284.54 585.87 1284.18 586.89 1283.83 587.91 1283.49 588.93 1283.15 589.96 1282.81 590.98 1282.48 592 1282.15 593.02 1281.83 594.04 1281.51 595.07 1281.19 596.09 1280.88 597.11 1280.58 598.13 1280.27 599.15 1279.97 600.17 1279.68 601.2 1279.39 602.22 1279.1 603.24 1278.82 604.26 1278.54 605.28 1278.26 606.31 1277.99 607.33 1277.72 608.35 1277.46 609.37 1277.2 610.39 1276.94 611.41 1276.69 612.44 1276.44 613.46 1276.2 614.48 1275.96 615.5 1275.72 616.52 1275.49 617.55 1275.26 618.57 1275.04 619.59 1274.82 620.61 1274.6 621.63 1274.39 622.65 1274.18 623.68 1273.97 624.7 1273.77 625.72 1273.57 626.74 1273.38 627.76 1273.19 628.78 1273 629.81 1272.82 630.83 1272.64 631.85 1272.46 632.87 1272.29 633.89 1272.12 634.92 1271.96 635.94 1271.8 636.96 1271.64 637.98 1271.49 639 1271.34 640.02 1271.19 641.05 1271.05 642.07 1270.91 643.09 1270.78 644.11 1270.65 645.13 1270.52 646.16 1270.39 647.18 1270.27 648.2 1270.16 649.22 1270.04 650.24 1269.93 651.26 1269.83 652.29 1269.73 653.31 1269.63 654.33 1269.53 655.35 1269.44 656.37 1269.35 657.4 1269.27 658.42 1269.19 659.44 1269.11 660.46 1269.04 661.48 1268.97 662.5 1268.9 663.53 1268.84 664.55 1268.78 665.57 1268.73 666.59 1268.67 667.61 1268.63 668.63 1268.58 669.66 1268.54 670.68 1268.5 671.7 1268.47 672.72 1268.44 673.74 1268.41 674.77 1268.39 675.79 1268.37 676.81 1268.35 677.83 1268.34 678.85 1268.33 679.87 1268.33 680.9 1268.33 683.95 1268.34 687 1268.39 690.05 1268.47 693.1 1268.58 696.15 1268.72 699.2 1268.9 702.24 1269.1 705.29 1269.34 708.33 1269.61 711.37 1269.91 714.4 1270.25 717.43 1270.61 720.46 1271.01 723.48 1271.44 726.49 1271.9 729.51 1272.39 732.51 1272.91 735.51 1273.47 738.51 1274.05 741.5 1274.67 744.48 1275.31 747.45 1275.99 750.42 1276.7 753.38 1277.44 756.33 1278.21 759.28 1279.02 762.21 1279.85 765.14 1280.71 768.06 1281.61 770.96 1282.53 773.86 1283.48 776.75 1284.47 779.62 1285.48 782.49 1286.53 785.34 1287.6 788.18 1288.7 791.02 1289.84 793.83 1291 796.64 1292.19 799.43 1293.41 802.21 1294.66 804.98 1295.94 807.73 1297.25 810.47 1298.59 813.2 1299.95 815.91 1301.35 818.6 1302.77 821.28 1304.22 823.95 1305.7 826.6 1307.2 829.23 1308.74 831.85 1310.3 834.45 1311.88 837.03 1313.5 839.59 1315.14 842.14 1316.81 844.67 1318.5 847.18 1320.22 849.68 1321.97 852.15 1323.74 854.61 1325.54 857.05 1327.36 859.46 1329.21 861.86 1331.09 864.24 1332.99 866.6 1334.91 868.93 1336.86 871.25 1338.83 873.55 1340.83 875.82 1342.85 878.07 1344.89 880.3 1346.96 882.51 1349.05 884.7 1351.17 886.86 1353.3 889.01 1355.46 891.12 1357.64 893.22 1359.84 895.29 1362.07 897.34 1364.32 899.36 1366.58 901.36 1368.87 903.34 1371.18 905.29 1373.51 907.22 1375.86 909.12 1378.23 910.99 1380.62 912.84 1383.03 914.67 1385.46 916.47 1387.9 918.24 1390.37 919.99 1392.85 921.71 1395.35 923.4 1397.87 925.07 1400.41 926.71 1402.97 928.33 1405.54 929.91 1408.13 931.47 1410.73 933 1413.35 934.5 1415.99 935.98 1418.64 937.43 1421.31 938.84 1423.99 940.23 1426.69 941.6 1429.4 942.93 1432.12 944.23 1434.86 945.51 1437.61 946.75 1440.38 947.97 1443.16 949.16 1445.95 950.31 1448.75 951.44 1451.57 952.54 1454.39 953.6 1457.23 954.64 1460.08 955.65 1462.94 956.63 1465.81 957.57 1468.69 958.49 1471.58 959.37 1474.48 960.23 1477.39 961.05 1480.3 961.84 1483.23 962.61 1486.16 963.34 1489.1 964.04 1492.05 964.7 1495.01 965.34 1497.97 965.95 1500.94 966.52 1503.91 967.06 1506.89 967.57 1509.88 968.05 1512.87 968.5 1515.87 968.91 1518.87 969.3 1521.87 969.65 1524.88 969.97 1527.9 970.26 1530.91 970.51 1533.93 970.74 1536.95 970.93 1539.97 971.09 1543 971.22 1546.03 971.32 1549.05 971.38 1552.08 971.41 1555.11 971.41 1558.14 971.38 1561.17 971.32 1564.2 971.22 1567.22 971.09 1570.25 970.93 1573.28 970.74 1576.3 970.51 1579.32 970.26 1582.34 969.97 1585.35 969.65 1588.37 969.3 1591.38 968.91 1594.38 968.5 1597.38 968.05 1600.38 967.57 1603.37 967.06 1606.36 966.52 1609.34 965.95 1612.31 965.34 1615.28 964.7 1618.24 964.04 1621.2 963.34 1624.15 962.61 1627.09 961.84 1630.02 961.05 1632.95 960.23 1635.86 959.37 1638.77 958.49 1641.67 957.57 1644.56 956.63 1647.44 955.65 1650.31 954.64 1653.17 953.6 1656.02 952.54 1658.86 951.44 1661.68 950.31 1664.5 949.16 1667.3 947.97 1670.09 946.75 1672.87 945.51 1675.64 944.23 1678.39 942.93 1681.13 941.6 1683.85 940.23 1686.56 938.84 1689.26 937.43 1691.94 935.98 1694.61 934.5 1697.26 933 1699.9 931.47 1702.52 929.91 1705.12 928.33 1707.71 926.71 1710.28 925.07 1712.84 923.4 1715.38 921.71 1717.9 919.99 1720.4 918.24 1722.88 916.47 1725.35 914.67 1727.79 912.84 1730.22 910.99 1732.63 909.12 1735.02 907.22 1737.39 905.29 1739.74 903.34 1742.07 901.36 1744.38 899.36 1746.67 897.34 1748.93 895.29 1751.18 893.22 1753.41 891.12 1755.61 889.01 1757.79 886.86 1759.95 884.7 1762.08 882.51 1764.2 880.3 1766.29 878.07 1768.36 875.82 1770.4 873.55 1772.42 871.25 1774.42 868.93 1776.39 866.6 1778.34 864.24 1780.26 861.86 1782.16 859.46 1784.04 857.05 1785.89 854.61 1787.71 852.15 1789.51 849.68 1791.28 847.18 1793.03 844.67 1794.75 842.14 1796.44 839.59 1798.11 837.03 1799.75 834.45 1801.37 831.85 1802.95 829.23 1804.51 826.6 1806.05 823.95 1807.55 821.28 1809.03 818.6 1810.48 815.91 1811.9 813.2 1813.3 810.47 1814.66 807.73 1816 804.98 1817.31 802.21 1818.59 799.43 1819.84 796.64 1821.06 793.83 1822.25 791.02 1823.41 788.18 1824.55 785.34 1825.65 782.49 1826.72 779.62 1827.77 776.75 1828.78 773.86 1829.77 770.96 1830.72 768.06 1831.64 765.14 1832.54 762.21 1833.4 759.28 1834.23 756.33 1835.04 753.38 1835.81 750.42 1836.55 747.45 1837.26 744.48 1837.94 741.5 1838.58 738.51 1839.2 735.51 1839.78 732.51 1840.34 729.51 1840.86 726.49 1841.35 723.48 1841.81 720.46 1842.24 717.43 1842.64 714.4 1843 711.37 1843.34 708.33 1843.64 705.29 1843.91 702.24 1844.15 699.2 1844.35 696.15 1844.53 693.1 1844.67 690.05 1844.78 687 1844.86 683.95 1844.91 680.9 1844.92 679.87 1844.92 678.85 1844.92 677.83 1844.91 676.81 1844.9 675.79 1844.88 674.77 1844.86 673.74 1844.84 672.72 1844.81 671.7 1844.78 670.68 1844.75 669.66 1844.71 668.63 1844.67 667.61 1844.62 666.59 1844.58 665.57 1844.52 664.55 1844.47 663.53 1844.41 662.5 1844.35 661.48 1844.28 660.46 1844.21 659.44 1844.14 658.42 1844.06 657.4 1843.98 656.37 1843.9 655.35 1843.81 654.33 1843.72 653.31 1843.62 652.29 1843.52 651.26 1843.42 650.24 1843.32 649.22 1843.21 648.2 1843.09 647.18 1842.98 646.16 1842.86 645.13 1842.73 644.11 1842.6 643.09 1842.47 642.07 1842.34 641.05 1842.2 640.02 1842.06 639 1841.91 637.98 1841.76 636.96 1841.61 635.94 1841.45 634.92 1841.29 633.89 1841.13 632.87 1840.96 631.85 1840.79 630.83 1840.61 629.81 1840.43 628.78 1840.25 627.76 1840.06 626.74 1839.87 625.72 1839.68 624.7 1839.48 623.68 1839.28 622.65 1839.07 621.63 1838.86 620.61 1838.65 619.59 1838.43 618.57 1838.21 617.55 1837.99 616.52 1837.76 615.5 1837.53 614.48 1837.29 613.46 1837.05 612.44 1836.81 611.41 1836.56 610.39 1836.31 609.37 1836.05 608.35 1835.79 607.33 1835.53 606.31 1835.26 605.28 1834.99 604.26 1834.71 603.24 1834.43 602.22 1834.15 601.2 1833.86 600.17 1833.57 599.15 1833.28 598.13 1832.98 597.11 1832.67 596.09 1832.37 595.07 1832.06 594.04 1831.74 593.02 1831.42 592 1831.1 590.98 1830.77 589.96 1830.44 588.93 1830.1 587.91 1829.76 586.89 1829.42 585.87 1829.07 584.85 1828.71 583.83 1828.36 582.8 1827.99 581.78 1827.63 580.76 1827.26 579.74 1826.88 578.72 1826.5 577.7 1826.12 576.67 1825.73 575.65 1825.34 574.63 1824.95 573.61 1824.55 572.59 1824.14 571.56 1823.73 570.54 1823.32 569.52 1822.9 568.5 1822.47 567.48 1822.05 566.46 1821.61 565.43 1821.18 564.41 1820.74 563.39 1820.29 562.37 1819.84 561.35 1819.38 560.32 1818.92 559.3 1818.46 558.28 1817.99 557.26 1817.51 556.24 1817.04 555.22 1816.55 554.19 1816.06 553.17 1815.57 552.15 1815.07 551.13 1814.57 550.11 1814.06 549.08 1813.54 548.06 1813.02 547.04 1812.5 546.02 1811.97 545 1811.44 543.98 1810.9 542.95 1810.35 541.93 1809.8 540.91 1809.25 539.89 1808.69 538.87 1808.12 537.85 1807.55 536.82 1806.98 535.8 1806.39 534.78 1805.81 533.76 1805.21 532.74 1804.62 531.71 1804.01 530.69 1803.4 529.67 1802.79 528.65 1802.17 527.63 1801.54 526.61 1800.91 525.58 1800.27 524.56 1799.62 523.54 1798.97 522.52 1798.32 521.5 1797.65 520.47 1796.99 519.45 1796.31 518.43 1795.63 517.41 1794.94 516.39 1794.25 515.37 1793.55 514.34 1792.84 513.32 1792.13 512.3 1791.41 511.28 1790.69 510.26 1789.95 509.23 1789.21 508.21 1788.47 507.19 1787.72 506.17 1786.96 505.15 1786.19 504.13 1785.41 503.1 1784.63 502.08 1783.85 501.06 1783.05 500.04 1782.25 499.02 1781.44 498 1780.62 496.97 1779.79 495.95 1778.96 494.93 1778.12 493.91 1777.27 492.89 1776.41 491.86 1775.55 490.84 1774.68 489.82 1773.79 488.8 1772.91 487.78 1772.01 486.76 1771.1 485.73 1770.19 484.71 1769.26 483.69 1768.33 482.67 1767.39 481.65 1766.44 480.62 1765.48 479.6 1764.51 478.58 1763.53 477.56 1762.54 476.54 1761.54 475.52 1760.53 474.49 1759.51 473.47 1758.48 472.45 1757.44 471.43 1756.39 470.41 1755.33 469.38 1754.26 468.36 1753.18 467.34 1752.09 466.32 1750.98 465.3 1749.87 464.28 1748.74 463.25 1747.6 462.23 1746.44 461.21 1745.26 460.19 1744.4 459.17 1743.56 458.14 1742.71 457.12 1741.88 456.1 1741.06 455.08 1740.24 454.06 1739.43 453.04 1738.63 452.01 1737.83 450.99 1737.04 449.97 1736.26 448.95 1735.49 447.93 1734.72 446.91 1733.96 445.88 1733.21 444.86 1732.46 443.84 1731.72 442.82 1730.99 441.8 1730.26 440.77 1729.54 439.75 1728.83 438.73 1728.12 437.71 1727.42 436.69 1726.73 435.67 1726.04 434.64 1725.36 433.62 1724.69 432.6 1724.02 431.58 1723.36 430.56 1722.7 429.53 1722.05 428.51 1721.41 427.49 1720.77 426.47 1720.14 425.45 1719.51 424.43 1718.89 423.4 1718.27 422.38 1717.66 421.36 1717.06 420.34 1716.46 419.32 1715.87 418.29 1715.28 417.27 1714.7 416.25 1714.12 415.23 1713.55 414.21 1712.99 413.19 1712.43 412.16 1711.87 411.14 1711.32 410.12 1710.78 409.1 1710.24 408.08 1709.7 407.06 1709.17 406.03 1708.65 405.01 1708.13 403.99 1707.62 402.97 1707.11 401.95 1706.61 400.92 1706.11 399.9 1705.61 398.88 1705.12 397.86 1704.64 396.84 1704.16 395.82 1703.69 394.79 1703.22 393.77 1702.75 392.75 1702.29 391.73 1701.84 390.71 1701.38 389.68 1700.94 388.66 1700.5 387.64 1700.06 386.62 1699.63 385.6 1699.2 384.58 1698.78 383.55 1698.36 382.53 1697.94 381.51 1697.53 380.49 1697.13 379.47 1696.73 378.44 1696.33 377.42 1695.94 376.4 1695.55 375.38 1695.17 374.36 1694.79 373.34 1694.42 372.31 1694.05 371.29 1693.68 370.27 1693.32 369.25 1692.96 368.23 1692.61 367.21 1692.26 366.18 1691.92 365.16 1691.57 364.14 1691.24 363.12 1690.91 362.1 1690.58 361.07 1690.25 360.05 1689.93 359.03 1689.62 358.01 1689.31 356.99 1689 355.97 1688.7 354.94 1688.4 353.92 1688.1 352.9 1687.81 351.88 1687.52 350.86 1687.24 349.83 1686.96 348.81 1686.69 347.79 1686.41 346.77 1686.15 345.75 1685.88 344.73 1685.62 343.7 1685.37 342.68 1685.12 341.66 1684.87 340.64 1684.63 339.62 1684.38 338.59 1684.15 337.57 1683.92 336.55 1683.69 335.53 1683.46 334.51 1683.24 333.49 1683.03 332.46 1682.81 331.44 1682.6 330.42 1682.4 329.4 1682.2 328.38 1682 327.36 1681.8 326.33 1681.61 325.31 1681.43 324.29 1681.24 323.27 1681.06 322.25 1680.89 321.22 1680.72 320.2 1680.55 319.18 1680.38 318.16 1680.22 317.14 1680.07 316.12 1679.91 315.09 1679.76 314.07 1679.62 313.05 1679.48 312.03 1679.34 311.01 1679.2 309.98 1679.07 308.96 1678.94 307.94 1678.82 306.92 1678.7 305.9 1678.58 304.88 1678.47 303.85 1678.36 302.83 1678.25 301.81 1678.15 300.79 1678.05 299.77 1677.96 298.74 1677.87 297.72 1677.78 296.7 1677.69 295.68 1677.61 294.66 1677.54 293.64 1677.46 292.61 1677.39 291.59 1677.33 290.57 1677.27 289.55 1677.21 288.53 1677.15 287.51 1677.1 286.48 1677.05 285.46 1677.01 284.44 1676.97 283.42 1676.93 282.4 1676.89 281.37 1676.86 280.35 1676.84 279.33 1676.81 278.31 1676.79 277.29 1676.78 276.27 1676.77 275.24 1676.76 274.22 1676.75 273.2 1676.75" stroke="#000" stroke-width="4.3" stroke-dasharray="15.5 16"/>
</g>
<rect x="268.5" y="1144.5" width="1083" height="847.8" fill="none" stroke="#111" stroke-width="2.8"/>
<g stroke="#111" stroke-width="2.6">
<line x1="268.5" y1="855.3" x2="268.5" y2="840.3"/>
<line x1="386.2" y1="855.3" x2="386.2" y2="840.3"/>
<line x1="503.9" y1="855.3" x2="503.9" y2="840.3"/>
<line x1="621.6" y1="855.3" x2="621.6" y2="840.3"/>
<line x1="739.3" y1="855.3" x2="739.3" y2="840.3"/>
<line x1="857" y1="855.3" x2="857" y2="840.3"/>
<line x1="974.7" y1="855.3" x2="974.7" y2="840.3"/>
<line x1="1092.4" y1="855.3" x2="1092.4" y2="840.3"/>
<line x1="1210.1" y1="855.3" x2="1210.1" y2="840.3"/>
<line x1="1327.8" y1="855.3" x2="1327.8" y2="840.3"/>
<line x1="268.5" y1="41.38" x2="284" y2="41.38"/>
<line x1="268.5" y1="159.24" x2="284" y2="159.24"/>
<line x1="268.5" y1="277.1" x2="284" y2="277.1"/>
<line x1="268.5" y1="394.96" x2="284" y2="394.96"/>
<line x1="268.5" y1="512.82" x2="284" y2="512.82"/>
<line x1="268.5" y1="630.68" x2="284" y2="630.68"/>
<line x1="268.5" y1="748.54" x2="284" y2="748.54"/>
</g>
<g font-family='"Liberation Serif", "Times New Roman", serif' font-size="52" fill="#111">
<text x="269.5" y="911.5" text-anchor="middle">0</text>
<text x="387.2" y="911.5" text-anchor="middle">2</text>
<text x="504.9" y="911.5" text-anchor="middle">4</text>
<text x="622.6" y="911.5" text-anchor="middle">6</text>
<text x="740.3" y="911.5" text-anchor="middle">8</text>
<text x="858" y="911.5" text-anchor="middle">10</text>
<text x="975.7" y="911.5" text-anchor="middle">12</text>
<text x="1093.4" y="911.5" text-anchor="middle">14</text>
<text x="1211.1" y="911.5" text-anchor="middle">16</text>
<text x="1328.8" y="911.5" text-anchor="middle">18</text>
<text x="249" y="55.18" text-anchor="end">4</text>
<text x="249" y="173.04" text-anchor="end">2</text>
<text x="249" y="290.9" text-anchor="end">0</text>
<text x="249" y="408.76" text-anchor="end">2</text>
<text x="0" y="0" transform="translate(226 408.76) scale(1.26 1)" text-anchor="end">−</text>
<text x="249" y="526.62" text-anchor="end">4</text>
<text x="0" y="0" transform="translate(226 526.62) scale(1.26 1)" text-anchor="end">−</text>
<text x="249" y="644.48" text-anchor="end">6</text>
<text x="0" y="0" transform="translate(226 644.48) scale(1.26 1)" text-anchor="end">−</text>
<text x="249" y="762.34" text-anchor="end">8</text>
<text x="0" y="0" transform="translate(226 762.34) scale(1.26 1)" text-anchor="end">−</text>
</g>
<g stroke="#111" stroke-width="2.6">
<line x1="273.2" y1="1992.3" x2="273.2" y2="1977.3"/>
<line x1="515.3" y1="1992.3" x2="515.3" y2="1977.3"/>
<line x1="757.4" y1="1992.3" x2="757.4" y2="1977.3"/>
<line x1="999.5" y1="1992.3" x2="999.5" y2="1977.3"/>
<line x1="1241.6" y1="1992.3" x2="1241.6" y2="1977.3"/>
<line x1="268.5" y1="1244.3" x2="284" y2="1244.3"/>
<line x1="268.5" y1="1340.4" x2="284" y2="1340.4"/>
<line x1="268.5" y1="1436.5" x2="284" y2="1436.5"/>
<line x1="268.5" y1="1532.6" x2="284" y2="1532.6"/>
<line x1="268.5" y1="1628.7" x2="284" y2="1628.7"/>
<line x1="268.5" y1="1724.8" x2="284" y2="1724.8"/>
<line x1="268.5" y1="1820.9" x2="284" y2="1820.9"/>
<line x1="268.5" y1="1917" x2="284" y2="1917"/>
</g>
<g font-family='"Liberation Serif", "Times New Roman", serif' font-size="52" fill="#111">
<text x="274.2" y="2048.5" text-anchor="middle">0</text>
<text x="516.3" y="2048.5" text-anchor="middle">5</text>
<text x="758.4" y="2048.5" text-anchor="middle">10</text>
<text x="1000.5" y="2048.5" text-anchor="middle">15</text>
<text x="1242.6" y="2048.5" text-anchor="middle">20</text>
<text x="249" y="1158.2" text-anchor="end">6</text>
<text x="249" y="1258.1" text-anchor="end">4</text>
<text x="249" y="1354.2" text-anchor="end">2</text>
<text x="249" y="1450.3" text-anchor="end">0</text>
<text x="249" y="1546.4" text-anchor="end">2</text>
<text x="0" y="0" transform="translate(226 1546.4) scale(1.26 1)" text-anchor="end">−</text>
<text x="249" y="1642.5" text-anchor="end">4</text>
<text x="0" y="0" transform="translate(226 1642.5) scale(1.26 1)" text-anchor="end">−</text>
<text x="249" y="1738.6" text-anchor="end">6</text>
<text x="0" y="0" transform="translate(226 1738.6) scale(1.26 1)" text-anchor="end">−</text>
<text x="249" y="1834.7" text-anchor="end">8</text>
<text x="0" y="0" transform="translate(226 1834.7) scale(1.26 1)" text-anchor="end">−</text>
<text x="249" y="1930.8" text-anchor="end">10</text>
<text x="0" y="0" transform="translate(200 1930.8) scale(1.26 1)" text-anchor="end">−</text>
</g>
<text x="771" y="987.2" font-family='"Liberation Serif", "Times New Roman", serif' font-size="52" fill="#111"><tspan font-style="italic">x</tspan>/m</text>
<text x="771.6" y="2123.7" font-family='"Liberation Serif", "Times New Roman", serif' font-size="52" fill="#111"><tspan font-style="italic">x</tspan>/m</text>
<text transform="translate(165 455.7) rotate(-90) scale(0.95 1)" x="0" y="0" font-family='"Liberation Serif", "Times New Roman", serif' font-size="52" fill="#111"><tspan font-style="italic">y</tspan>/m</text>
<text transform="translate(165 1600) rotate(-90) scale(0.95 1)" x="0" y="0" font-family='"Liberation Serif", "Times New Roman", serif' font-size="52" fill="#111"><tspan font-style="italic">y</tspan>/m</text>
<text x="653.5" y="1073" font-family='"Liberation Serif", "Times New Roman", serif' font-size="52" fill="#111">(a)</text>
<text x="723" y="1074" font-family='"Liberation Serif", "Noto Serif CJK SC", serif' font-size="50" fill="#111" letter-spacing="3" style="stroke:none">不考虑</text>
<text x="880" y="1073" font-family='"Liberation Serif", "Times New Roman", serif' font-size="52" font-style="italic" fill="#111">R</text>
<text x="912" y="1083.5" font-family='"Liberation Serif", "Times New Roman", serif' font-size="31" fill="#111" style="stroke:none">min</text>
<text x="676.5" y="2211.5" font-family='"Liberation Serif", "Times New Roman", serif' font-size="52" fill="#111">(b)</text>
<text x="750.5" y="2211.5" font-family='"Liberation Serif", "Noto Serif CJK SC", serif' font-size="50" fill="#111" letter-spacing="3" style="stroke:none">考虑</text>
<text x="854" y="2211.5" font-family='"Liberation Serif", "Times New Roman", serif' font-size="52" font-style="italic" fill="#111">R</text>
<text x="887.5" y="2221" font-family='"Liberation Serif", "Times New Roman", serif' font-size="31" fill="#111" style="stroke:none">min</text>
<line x1="307" y1="2284.4" x2="367" y2="2284.4" stroke="#9a9a9a" stroke-width="3.5" stroke-dasharray="4 4"/>
<text x="381" y="2299" font-family='"Liberation Serif", "Times New Roman", serif' font-size="52" fill="#111"><tspan font-style="italic">γ</tspan>=0.15</text>
<line x1="576" y1="2284.4" x2="635" y2="2284.4" stroke="#8e9a3c" stroke-width="3.5" stroke-dasharray="15.6 3.5 4.5 8.2"/>
<text x="648" y="2299" font-family='"Liberation Serif", "Times New Roman", serif' font-size="52" fill="#111"><tspan font-style="italic">γ</tspan>=0.35</text>
<line x1="845.5" y1="2284.4" x2="907.5" y2="2284.4" stroke="#9e1f48" stroke-width="4"/>
<text x="927" y="2299" font-family='"Liberation Serif", "Times New Roman", serif' font-size="52" fill="#111"><tspan font-style="italic">γ</tspan>=0.5</text>
<line x1="1096" y1="2284.4" x2="1158" y2="2284.4" stroke="#a040b0" stroke-width="5.5"/>
<text x="1169" y="2299" font-family='"Liberation Serif", "Times New Roman", serif' font-size="52" fill="#111"><tspan font-style="italic">γ</tspan>=0.65</text>
<line x1="308" y1="2352.4" x2="369" y2="2352.4" stroke="#3e3b92" stroke-width="7"/>
<text x="381" y="2366" font-family='"Liberation Serif", "Times New Roman", serif' font-size="52" fill="#111"><tspan font-style="italic">γ</tspan>=0.85</text>
<line x1="576" y1="2352.4" x2="640" y2="2352.4" stroke="#c9c9c9" stroke-width="3"/>
<text x="651" y="2366" font-family='"Liberation Serif", "Times New Roman", serif' font-size="52" fill="#111">Arc</text>
<line x1="844" y1="2352.4" x2="908" y2="2352.4" stroke="#000" stroke-width="4.3" stroke-dasharray="22.5 19"/>
<text x="927" y="2366" font-family='"Liberation Serif", "Times New Roman", serif' font-size="52" fill="#111">Dubins</text>
</svg></body></html>
